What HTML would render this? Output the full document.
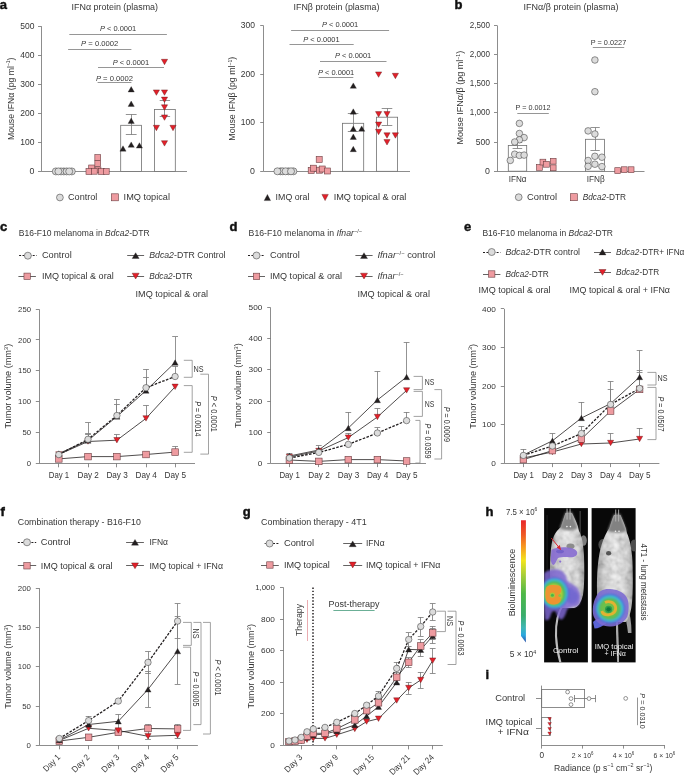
<!DOCTYPE html>
<html><head><meta charset="utf-8"><style>
html,body{margin:0;padding:0;background:#fff;}
svg{display:block;will-change:transform;}
text{font-family:"Liberation Sans",sans-serif;}
</style></head><body>
<svg width="685" height="776" viewBox="0 0 685 776">
<rect width="685" height="776" fill="#fff"/>
<g fill="#363636">
<text x="-0.3" y="9.2" font-size="13" font-weight="bold" fill="#111" stroke="#111" stroke-width="0.45">a</text>
<text x="71.6" y="10" font-size="8.5" textLength="86.4" lengthAdjust="spacingAndGlyphs">IFNα protein (plasma)</text>
<line x1="41.5" y1="26.2" x2="41.5" y2="171.4" stroke="#707070" stroke-width="0.8"/>
<line x1="38" y1="171.5" x2="41.3" y2="171.5" stroke="#707070" stroke-width="0.8"/>
<text x="34.4" y="174" font-size="8.8" text-anchor="end" textLength="4.9" lengthAdjust="spacingAndGlyphs">0</text>
<line x1="38" y1="142.5" x2="41.3" y2="142.5" stroke="#707070" stroke-width="0.8"/>
<text x="34.4" y="144.96" font-size="8.8" text-anchor="end" textLength="14.2" lengthAdjust="spacingAndGlyphs">100</text>
<line x1="38" y1="113.5" x2="41.3" y2="113.5" stroke="#707070" stroke-width="0.8"/>
<text x="34.4" y="115.92" font-size="8.8" text-anchor="end" textLength="14.2" lengthAdjust="spacingAndGlyphs">200</text>
<line x1="38" y1="84.5" x2="41.3" y2="84.5" stroke="#707070" stroke-width="0.8"/>
<text x="34.4" y="86.88" font-size="8.8" text-anchor="end" textLength="14.2" lengthAdjust="spacingAndGlyphs">300</text>
<line x1="38" y1="55.5" x2="41.3" y2="55.5" stroke="#707070" stroke-width="0.8"/>
<text x="34.4" y="57.84" font-size="8.8" text-anchor="end" textLength="14.2" lengthAdjust="spacingAndGlyphs">400</text>
<line x1="38" y1="26.5" x2="41.3" y2="26.5" stroke="#707070" stroke-width="0.8"/>
<text x="34.4" y="28.8" font-size="8.8" text-anchor="end" textLength="14.2" lengthAdjust="spacingAndGlyphs">500</text>
<text transform="translate(13.8,98.8) rotate(-90)" x="0" y="0" font-size="9.8" text-anchor="middle" textLength="82.6" lengthAdjust="spacingAndGlyphs">Mouse IFNα (pg ml<tspan dy="-3.6" font-size="5.6">−1</tspan><tspan dy="3.6">)</tspan></text>
<line x1="41.3" y1="171.5" x2="187" y2="171.5" stroke="#707070" stroke-width="0.8"/>
<line x1="69.3" y1="34.5" x2="166.9" y2="34.5" stroke="#8a8a8a" stroke-width="0.9"/>
<text x="118.1" y="31" font-size="7.5" text-anchor="middle" textLength="36.4" lengthAdjust="spacingAndGlyphs"><tspan font-style="italic">P</tspan> &lt; 0.0001</text>
<line x1="68.1" y1="49.5" x2="131.4" y2="49.5" stroke="#8a8a8a" stroke-width="0.9"/>
<text x="99.7" y="46.4" font-size="7.5" text-anchor="middle" textLength="37.2" lengthAdjust="spacingAndGlyphs"><tspan font-style="italic">P</tspan> = 0.0002</text>
<line x1="98" y1="67.5" x2="164" y2="67.5" stroke="#8a8a8a" stroke-width="0.9"/>
<text x="131" y="64.9" font-size="7.5" text-anchor="middle" textLength="36.4" lengthAdjust="spacingAndGlyphs"><tspan font-style="italic">P</tspan> &lt; 0.0001</text>
<line x1="97.6" y1="82.5" x2="131.4" y2="82.5" stroke="#8a8a8a" stroke-width="0.9"/>
<text x="114.5" y="80.6" font-size="7.5" text-anchor="middle" textLength="37.2" lengthAdjust="spacingAndGlyphs"><tspan font-style="italic">P</tspan> = 0.0002</text>
<rect x="120.7" y="125.3" width="20.9" height="46.1" fill="#fff" stroke="#707070" stroke-width="0.8"/>
<rect x="154.4" y="109.4" width="20.9" height="62" fill="#fff" stroke="#707070" stroke-width="0.8"/>
<line x1="131.5" y1="114.2" x2="131.5" y2="134.9" stroke="#808080" stroke-width="0.85"/>
<line x1="125.8" y1="114.5" x2="136.6" y2="114.5" stroke="#808080" stroke-width="0.85"/>
<line x1="125.8" y1="134.5" x2="136.6" y2="134.5" stroke="#808080" stroke-width="0.85"/>
<line x1="164.5" y1="100.3" x2="164.5" y2="116.5" stroke="#808080" stroke-width="0.85"/>
<line x1="159.7" y1="100.5" x2="170.1" y2="100.5" stroke="#808080" stroke-width="0.85"/>
<line x1="159.7" y1="116.5" x2="170.1" y2="116.5" stroke="#808080" stroke-width="0.85"/>
<circle cx="63.8" cy="171.4" r="3.5" fill="#dcdcdc" stroke="#4a4a4a" stroke-width="0.6"/>
<circle cx="55.8" cy="171.4" r="3.5" fill="#dcdcdc" stroke="#4a4a4a" stroke-width="0.6"/>
<circle cx="61" cy="171.4" r="3.5" fill="#dcdcdc" stroke="#4a4a4a" stroke-width="0.6"/>
<circle cx="58.4" cy="171.4" r="3.5" fill="#dcdcdc" stroke="#4a4a4a" stroke-width="0.6"/>
<circle cx="66.6" cy="171.4" r="3.5" fill="#dcdcdc" stroke="#4a4a4a" stroke-width="0.6"/>
<circle cx="71.8" cy="171.4" r="3.5" fill="#dcdcdc" stroke="#4a4a4a" stroke-width="0.6"/>
<circle cx="69.2" cy="171.4" r="3.5" fill="#dcdcdc" stroke="#4a4a4a" stroke-width="0.6"/>
<rect x="94.85" y="154.6" width="5.8" height="5.8" fill="#ee9ba0" stroke="#6b3d40" stroke-width="0.6"/>
<rect x="94.85" y="160.5" width="5.8" height="5.8" fill="#ee9ba0" stroke="#6b3d40" stroke-width="0.6"/>
<rect x="88.7" y="165" width="5.8" height="5.8" fill="#ee9ba0" stroke="#6b3d40" stroke-width="0.6"/>
<rect x="95.1" y="166.9" width="5.8" height="5.8" fill="#ee9ba0" stroke="#6b3d40" stroke-width="0.6"/>
<rect x="86" y="168.6" width="5.8" height="5.8" fill="#ee9ba0" stroke="#6b3d40" stroke-width="0.6"/>
<rect x="91.4" y="168.4" width="5.8" height="5.8" fill="#ee9ba0" stroke="#6b3d40" stroke-width="0.6"/>
<rect x="98.6" y="168.6" width="5.8" height="5.8" fill="#ee9ba0" stroke="#6b3d40" stroke-width="0.6"/>
<rect x="103.4" y="168.6" width="5.8" height="5.8" fill="#ee9ba0" stroke="#6b3d40" stroke-width="0.6"/>
<polygon points="128.1,92 134.3,92 131.2,86.6" fill="#231f20" stroke="#231f20" stroke-width="0.3"/>
<polygon points="128.1,106.4 134.3,106.4 131.2,101" fill="#231f20" stroke="#231f20" stroke-width="0.3"/>
<polygon points="128.1,123.4 134.3,123.4 131.2,118" fill="#231f20" stroke="#231f20" stroke-width="0.3"/>
<polygon points="119.9,151.2 126.1,151.2 123,145.8" fill="#231f20" stroke="#231f20" stroke-width="0.3"/>
<polygon points="128.1,147.3 134.3,147.3 131.2,141.9" fill="#231f20" stroke="#231f20" stroke-width="0.3"/>
<polygon points="136.3,148.1 142.5,148.1 139.4,142.7" fill="#231f20" stroke="#231f20" stroke-width="0.3"/>
<polygon points="161.4,59.3 167.6,59.3 164.5,64.7" fill="#e3202a" stroke="#5a1515" stroke-width="0.4"/>
<polygon points="153.3,89.9 159.5,89.9 156.4,95.3" fill="#e3202a" stroke="#5a1515" stroke-width="0.4"/>
<polygon points="161.4,89.9 167.6,89.9 164.5,95.3" fill="#e3202a" stroke="#5a1515" stroke-width="0.4"/>
<polygon points="161.4,97.1 167.6,97.1 164.5,102.5" fill="#e3202a" stroke="#5a1515" stroke-width="0.4"/>
<polygon points="161.4,104.8 167.6,104.8 164.5,110.2" fill="#e3202a" stroke="#5a1515" stroke-width="0.4"/>
<polygon points="161.4,114.9 167.6,114.9 164.5,120.3" fill="#e3202a" stroke="#5a1515" stroke-width="0.4"/>
<polygon points="153.3,125.3 159.5,125.3 156.4,130.7" fill="#e3202a" stroke="#5a1515" stroke-width="0.4"/>
<polygon points="169.9,125.3 176.1,125.3 173,130.7" fill="#e3202a" stroke="#5a1515" stroke-width="0.4"/>
<polygon points="161.4,140.7 167.6,140.7 164.5,146.1" fill="#e3202a" stroke="#5a1515" stroke-width="0.4"/>
<circle cx="59.9" cy="197.5" r="3.4" fill="#dcdcdc" stroke="#4a4a4a" stroke-width="0.6"/>
<text x="68" y="200.2" font-size="8.6" textLength="29.4" lengthAdjust="spacingAndGlyphs">Control</text>
<rect x="111.4" y="193.8" width="7" height="7" fill="#ee9ba0" stroke="#6b3d40" stroke-width="0.6"/>
<text x="123.6" y="200.2" font-size="8.6" textLength="46.4" lengthAdjust="spacingAndGlyphs">IMQ topical</text>
<text x="293.6" y="10" font-size="8.5" textLength="85.8" lengthAdjust="spacingAndGlyphs">IFNβ protein (plasma)</text>
<line x1="263.5" y1="25.6" x2="263.5" y2="171.3" stroke="#707070" stroke-width="0.8"/>
<line x1="260.2" y1="171.5" x2="263.5" y2="171.5" stroke="#707070" stroke-width="0.8"/>
<text x="255" y="173.9" font-size="8.8" text-anchor="end" textLength="4.9" lengthAdjust="spacingAndGlyphs">0</text>
<line x1="260.2" y1="122.5" x2="263.5" y2="122.5" stroke="#707070" stroke-width="0.8"/>
<text x="255" y="125.33" font-size="8.8" text-anchor="end" textLength="14.2" lengthAdjust="spacingAndGlyphs">100</text>
<line x1="260.2" y1="74.5" x2="263.5" y2="74.5" stroke="#707070" stroke-width="0.8"/>
<text x="255" y="76.76" font-size="8.8" text-anchor="end" textLength="14.2" lengthAdjust="spacingAndGlyphs">200</text>
<line x1="260.2" y1="25.5" x2="263.5" y2="25.5" stroke="#707070" stroke-width="0.8"/>
<text x="255" y="28.19" font-size="8.8" text-anchor="end" textLength="14.2" lengthAdjust="spacingAndGlyphs">300</text>
<text transform="translate(235.2,98.7) rotate(-90)" x="0" y="0" font-size="9.6" text-anchor="middle" textLength="84" lengthAdjust="spacingAndGlyphs">Mouse IFNβ (pg ml<tspan dy="-3.6" font-size="5.6">−1</tspan><tspan dy="3.6">)</tspan></text>
<line x1="263.5" y1="171.5" x2="410" y2="171.5" stroke="#707070" stroke-width="0.8"/>
<line x1="291.1" y1="30.5" x2="389.1" y2="30.5" stroke="#8a8a8a" stroke-width="0.9"/>
<text x="340.1" y="26.8" font-size="7.5" text-anchor="middle" textLength="36.4" lengthAdjust="spacingAndGlyphs"><tspan font-style="italic">P</tspan> &lt; 0.0001</text>
<line x1="289.5" y1="44.5" x2="353.7" y2="44.5" stroke="#8a8a8a" stroke-width="0.9"/>
<text x="321.5" y="42.1" font-size="7.5" text-anchor="middle" textLength="36.4" lengthAdjust="spacingAndGlyphs"><tspan font-style="italic">P</tspan> &lt; 0.0001</text>
<line x1="320" y1="61.5" x2="386.5" y2="61.5" stroke="#8a8a8a" stroke-width="0.9"/>
<text x="353.1" y="57.7" font-size="7.5" text-anchor="middle" textLength="36.4" lengthAdjust="spacingAndGlyphs"><tspan font-style="italic">P</tspan> &lt; 0.0001</text>
<line x1="318.7" y1="77.5" x2="353.3" y2="77.5" stroke="#8a8a8a" stroke-width="0.9"/>
<text x="336.1" y="75" font-size="7.5" text-anchor="middle" textLength="36.4" lengthAdjust="spacingAndGlyphs"><tspan font-style="italic">P</tspan> &lt; 0.0001</text>
<rect x="342.5" y="123.3" width="21.2" height="48" fill="#fff" stroke="#707070" stroke-width="0.8"/>
<rect x="376.4" y="117.2" width="21.2" height="54.1" fill="#fff" stroke="#707070" stroke-width="0.8"/>
<line x1="353.5" y1="113.4" x2="353.5" y2="131.6" stroke="#808080" stroke-width="0.85"/>
<line x1="347.8" y1="113.5" x2="358.4" y2="113.5" stroke="#808080" stroke-width="0.85"/>
<line x1="347.8" y1="131.5" x2="358.4" y2="131.5" stroke="#808080" stroke-width="0.85"/>
<line x1="387.5" y1="108.3" x2="387.5" y2="125.6" stroke="#808080" stroke-width="0.85"/>
<line x1="381.7" y1="108.5" x2="392.3" y2="108.5" stroke="#808080" stroke-width="0.85"/>
<line x1="381.7" y1="125.5" x2="392.3" y2="125.5" stroke="#808080" stroke-width="0.85"/>
<circle cx="280.5" cy="171.3" r="3.5" fill="#dcdcdc" stroke="#4a4a4a" stroke-width="0.6"/>
<circle cx="282.7" cy="171.3" r="3.5" fill="#dcdcdc" stroke="#4a4a4a" stroke-width="0.6"/>
<circle cx="288.4" cy="171.3" r="3.5" fill="#dcdcdc" stroke="#4a4a4a" stroke-width="0.6"/>
<circle cx="293.4" cy="171.3" r="3.5" fill="#dcdcdc" stroke="#4a4a4a" stroke-width="0.6"/>
<circle cx="277.4" cy="171.3" r="3.5" fill="#dcdcdc" stroke="#4a4a4a" stroke-width="0.6"/>
<circle cx="285.6" cy="171.3" r="3.5" fill="#dcdcdc" stroke="#4a4a4a" stroke-width="0.6"/>
<circle cx="291" cy="171.3" r="3.5" fill="#dcdcdc" stroke="#4a4a4a" stroke-width="0.6"/>
<rect x="316.2" y="156.4" width="6" height="6" fill="#ee9ba0" stroke="#6b3d40" stroke-width="0.6"/>
<rect x="308.2" y="167.4" width="6" height="6" fill="#ee9ba0" stroke="#6b3d40" stroke-width="0.6"/>
<rect x="310.4" y="165.2" width="6" height="6" fill="#ee9ba0" stroke="#6b3d40" stroke-width="0.6"/>
<rect x="316.4" y="167.2" width="6" height="6" fill="#ee9ba0" stroke="#6b3d40" stroke-width="0.6"/>
<rect x="319.2" y="166" width="6" height="6" fill="#ee9ba0" stroke="#6b3d40" stroke-width="0.6"/>
<rect x="324.4" y="168" width="6" height="6" fill="#ee9ba0" stroke="#6b3d40" stroke-width="0.6"/>
<polygon points="350.2,88.3 356.4,88.3 353.3,82.9" fill="#231f20" stroke="#231f20" stroke-width="0.3"/>
<polygon points="350.2,114.2 356.4,114.2 353.3,108.8" fill="#231f20" stroke="#231f20" stroke-width="0.3"/>
<polygon points="350.2,131.3 356.4,131.3 353.3,125.9" fill="#231f20" stroke="#231f20" stroke-width="0.3"/>
<polygon points="358.6,131.3 364.8,131.3 361.7,125.9" fill="#231f20" stroke="#231f20" stroke-width="0.3"/>
<polygon points="350.2,139.4 356.4,139.4 353.3,134" fill="#231f20" stroke="#231f20" stroke-width="0.3"/>
<polygon points="350.2,151.7 356.4,151.7 353.3,146.3" fill="#231f20" stroke="#231f20" stroke-width="0.3"/>
<polygon points="375.5,71.9 381.7,71.9 378.6,77.3" fill="#e3202a" stroke="#5a1515" stroke-width="0.4"/>
<polygon points="392.3,73.3 398.5,73.3 395.4,78.7" fill="#e3202a" stroke="#5a1515" stroke-width="0.4"/>
<polygon points="375.5,111.6 381.7,111.6 378.6,117" fill="#e3202a" stroke="#5a1515" stroke-width="0.4"/>
<polygon points="383.9,111.6 390.1,111.6 387,117" fill="#e3202a" stroke="#5a1515" stroke-width="0.4"/>
<polygon points="375.5,122 381.7,122 378.6,127.4" fill="#e3202a" stroke="#5a1515" stroke-width="0.4"/>
<polygon points="375.5,129.3 381.7,129.3 378.6,134.7" fill="#e3202a" stroke="#5a1515" stroke-width="0.4"/>
<polygon points="383.9,132.8 390.1,132.8 387,138.2" fill="#e3202a" stroke="#5a1515" stroke-width="0.4"/>
<polygon points="392.3,132.8 398.5,132.8 395.4,138.2" fill="#e3202a" stroke="#5a1515" stroke-width="0.4"/>
<polygon points="383.9,139.6 390.1,139.6 387,145" fill="#e3202a" stroke="#5a1515" stroke-width="0.4"/>
<polygon points="264.2,200.6 270.6,200.6 267.4,194.4" fill="#231f20" stroke="#231f20" stroke-width="0.3"/>
<text x="275.6" y="200.2" font-size="8.6" textLength="33.8" lengthAdjust="spacingAndGlyphs">IMQ oral</text>
<polygon points="321.9,194.4 328.3,194.4 325.1,200.6" fill="#e3202a" stroke="#5a1515" stroke-width="0.4"/>
<text x="333.7" y="200.2" font-size="8.6" textLength="72.7" lengthAdjust="spacingAndGlyphs">IMQ topical &amp; oral</text>
<text x="454.6" y="8.8" font-size="13" font-weight="bold" fill="#111" stroke="#111" stroke-width="0.45">b</text>
<text x="523.6" y="10" font-size="8.5" textLength="94.8" lengthAdjust="spacingAndGlyphs">IFNα/β protein (plasma)</text>
<line x1="497.5" y1="25.4" x2="497.5" y2="171.2" stroke="#707070" stroke-width="0.8"/>
<line x1="494" y1="171.5" x2="497" y2="171.5" stroke="#707070" stroke-width="0.8"/>
<text x="489.9" y="173.8" font-size="8.8" text-anchor="end" textLength="4.9" lengthAdjust="spacingAndGlyphs">0</text>
<line x1="494" y1="142.5" x2="497" y2="142.5" stroke="#707070" stroke-width="0.8"/>
<text x="489.9" y="144.64" font-size="8.8" text-anchor="end" textLength="14.2" lengthAdjust="spacingAndGlyphs">500</text>
<line x1="494" y1="112.5" x2="497" y2="112.5" stroke="#707070" stroke-width="0.8"/>
<text x="489.9" y="115.48" font-size="8.8" text-anchor="end" textLength="20.2" lengthAdjust="spacingAndGlyphs">1,000</text>
<line x1="494" y1="83.5" x2="497" y2="83.5" stroke="#707070" stroke-width="0.8"/>
<text x="489.9" y="86.32" font-size="8.8" text-anchor="end" textLength="20.2" lengthAdjust="spacingAndGlyphs">1,500</text>
<line x1="494" y1="54.5" x2="497" y2="54.5" stroke="#707070" stroke-width="0.8"/>
<text x="489.9" y="57.16" font-size="8.8" text-anchor="end" textLength="20.2" lengthAdjust="spacingAndGlyphs">2,000</text>
<line x1="494" y1="25.5" x2="497" y2="25.5" stroke="#707070" stroke-width="0.8"/>
<text x="489.9" y="28" font-size="8.8" text-anchor="end" textLength="20.2" lengthAdjust="spacingAndGlyphs">2,500</text>
<text transform="translate(463.3,97.6) rotate(-90)" x="0" y="0" font-size="9.8" text-anchor="middle" textLength="93.7" lengthAdjust="spacingAndGlyphs">Mouse IFNα/β (pg ml<tspan dy="-3.6" font-size="5.6">−1</tspan><tspan dy="3.6">)</tspan></text>
<line x1="497" y1="171.5" x2="644.5" y2="171.5" stroke="#707070" stroke-width="0.8"/>
<line x1="517.3" y1="113.5" x2="548.8" y2="113.5" stroke="#8a8a8a" stroke-width="0.9"/>
<text x="533.05" y="110.4" font-size="7.5" text-anchor="middle" textLength="35" lengthAdjust="spacingAndGlyphs">P = 0.0012</text>
<line x1="592.8" y1="47.5" x2="624.2" y2="47.5" stroke="#8a8a8a" stroke-width="0.9"/>
<text x="608.5" y="44.9" font-size="7.5" text-anchor="middle" textLength="35.4" lengthAdjust="spacingAndGlyphs">P = 0.0227</text>
<rect x="508.3" y="145.5" width="18.4" height="25.7" fill="#fff" stroke="#707070" stroke-width="0.8"/>
<rect x="585.5" y="139.3" width="19" height="31.9" fill="#fff" stroke="#707070" stroke-width="0.8"/>
<line x1="517.5" y1="142.5" x2="517.5" y2="148.5" stroke="#808080" stroke-width="0.85"/>
<line x1="512.6" y1="142.5" x2="522.2" y2="142.5" stroke="#808080" stroke-width="0.85"/>
<line x1="512.6" y1="148.5" x2="522.2" y2="148.5" stroke="#808080" stroke-width="0.85"/>
<line x1="595.5" y1="127.4" x2="595.5" y2="150.6" stroke="#808080" stroke-width="0.85"/>
<line x1="590.45" y1="127.5" x2="599.75" y2="127.5" stroke="#808080" stroke-width="0.85"/>
<line x1="590.45" y1="150.5" x2="599.75" y2="150.5" stroke="#808080" stroke-width="0.85"/>
<circle cx="519.4" cy="123.4" r="3.3" fill="#dcdcdc" stroke="#4a4a4a" stroke-width="0.6"/>
<circle cx="519.4" cy="133.5" r="3.3" fill="#dcdcdc" stroke="#4a4a4a" stroke-width="0.6"/>
<circle cx="524.1" cy="137.6" r="3.3" fill="#dcdcdc" stroke="#4a4a4a" stroke-width="0.6"/>
<circle cx="519.4" cy="139.8" r="3.3" fill="#dcdcdc" stroke="#4a4a4a" stroke-width="0.6"/>
<circle cx="514.7" cy="142" r="3.3" fill="#dcdcdc" stroke="#4a4a4a" stroke-width="0.6"/>
<circle cx="514.7" cy="154.2" r="3.3" fill="#dcdcdc" stroke="#4a4a4a" stroke-width="0.6"/>
<circle cx="519.4" cy="155.4" r="3.3" fill="#dcdcdc" stroke="#4a4a4a" stroke-width="0.6"/>
<circle cx="524.1" cy="155.1" r="3.3" fill="#dcdcdc" stroke="#4a4a4a" stroke-width="0.6"/>
<circle cx="510.3" cy="160.4" r="3.3" fill="#dcdcdc" stroke="#4a4a4a" stroke-width="0.6"/>
<rect x="536.5" y="164.5" width="5.8" height="5.8" fill="#ee9ba0" stroke="#6b3d40" stroke-width="0.6"/>
<rect x="540" y="159.2" width="5.8" height="5.8" fill="#ee9ba0" stroke="#6b3d40" stroke-width="0.6"/>
<rect x="543.5" y="161.4" width="5.8" height="5.8" fill="#ee9ba0" stroke="#6b3d40" stroke-width="0.6"/>
<rect x="550.3" y="158.3" width="5.8" height="5.8" fill="#ee9ba0" stroke="#6b3d40" stroke-width="0.6"/>
<rect x="550.3" y="164.9" width="5.8" height="5.8" fill="#ee9ba0" stroke="#6b3d40" stroke-width="0.6"/>
<circle cx="594.9" cy="60" r="3.3" fill="#dcdcdc" stroke="#4a4a4a" stroke-width="0.6"/>
<circle cx="594.9" cy="91.7" r="3.3" fill="#dcdcdc" stroke="#4a4a4a" stroke-width="0.6"/>
<circle cx="588.1" cy="130.9" r="3.3" fill="#dcdcdc" stroke="#4a4a4a" stroke-width="0.6"/>
<circle cx="594.9" cy="134" r="3.3" fill="#dcdcdc" stroke="#4a4a4a" stroke-width="0.6"/>
<circle cx="594.9" cy="156.3" r="3.3" fill="#dcdcdc" stroke="#4a4a4a" stroke-width="0.6"/>
<circle cx="601.9" cy="157.2" r="3.3" fill="#dcdcdc" stroke="#4a4a4a" stroke-width="0.6"/>
<circle cx="588.1" cy="160.5" r="3.3" fill="#dcdcdc" stroke="#4a4a4a" stroke-width="0.6"/>
<circle cx="588.1" cy="166.3" r="3.3" fill="#dcdcdc" stroke="#4a4a4a" stroke-width="0.6"/>
<circle cx="594.9" cy="164.2" r="3.3" fill="#dcdcdc" stroke="#4a4a4a" stroke-width="0.6"/>
<circle cx="601.9" cy="166.6" r="3.3" fill="#dcdcdc" stroke="#4a4a4a" stroke-width="0.6"/>
<rect x="614.8" y="167.7" width="5.8" height="5.8" fill="#ee9ba0" stroke="#6b3d40" stroke-width="0.6"/>
<rect x="621.3" y="166.8" width="5.8" height="5.8" fill="#ee9ba0" stroke="#6b3d40" stroke-width="0.6"/>
<rect x="628.2" y="166.8" width="5.8" height="5.8" fill="#ee9ba0" stroke="#6b3d40" stroke-width="0.6"/>
<text x="508.7" y="181.6" font-size="8.5" textLength="17.8" lengthAdjust="spacingAndGlyphs">IFNα</text>
<text x="586.7" y="181.6" font-size="8.5" textLength="18" lengthAdjust="spacingAndGlyphs">IFNβ</text>
<circle cx="518.7" cy="197.2" r="3.4" fill="#dcdcdc" stroke="#4a4a4a" stroke-width="0.6"/>
<text x="527" y="200.2" font-size="8.6" textLength="30.1" lengthAdjust="spacingAndGlyphs">Control</text>
<rect x="570.4" y="193.7" width="7" height="7" fill="#ee9ba0" stroke="#6b3d40" stroke-width="0.6"/>
<text x="582.7" y="200.2" font-size="8.6" textLength="43.3" lengthAdjust="spacingAndGlyphs"><tspan font-style="italic">Bdca2</tspan>-DTR</text>
<text x="0" y="231.2" font-size="13" font-weight="bold" fill="#111" stroke="#111" stroke-width="0.45">c</text>
<text x="18.8" y="236" font-size="8.4" textLength="130.8" lengthAdjust="spacingAndGlyphs">B16-F10 melanoma in <tspan font-style="italic">Bdca2</tspan>-DTR</text>
<line x1="19.1" y1="255.5" x2="36.6" y2="255.5" stroke="#231f20" stroke-width="1" stroke-dasharray="2,1.4"/>
<circle cx="27.85" cy="255.7" r="3.5" fill="#dcdcdc" stroke="#4a4a4a" stroke-width="0.6"/>
<text x="41.9" y="258" font-size="8.8" textLength="29.8" lengthAdjust="spacingAndGlyphs">Control</text>
<line x1="127.2" y1="255.5" x2="144.1" y2="255.5" stroke="#231f20" stroke-width="0.7"/>
<polygon points="132.15,258.5 139.15,258.5 135.65,252.7" fill="#231f20" stroke="#231f20" stroke-width="0.3"/>
<text x="149.2" y="258" font-size="8.8" textLength="76.3" lengthAdjust="spacingAndGlyphs"><tspan font-style="italic">Bdca2</tspan>-DTR Control</text>
<line x1="18.4" y1="276.5" x2="35.9" y2="276.5" stroke="#231f20" stroke-width="0.7"/>
<rect x="23.95" y="273.1" width="6.4" height="6.4" fill="#ee9ba0" stroke="#6b3d40" stroke-width="0.6"/>
<text x="41.9" y="278.6" font-size="8.8" textLength="71.8" lengthAdjust="spacingAndGlyphs">IMQ topical &amp; oral</text>
<line x1="127.2" y1="276.5" x2="144.1" y2="276.5" stroke="#231f20" stroke-width="0.7"/>
<polygon points="132.15,273.2 139.15,273.2 135.65,279" fill="#e3202a" stroke="#5a1515" stroke-width="0.4"/>
<text x="149.2" y="278.8" font-size="8.8" textLength="43.4" lengthAdjust="spacingAndGlyphs"><tspan font-style="italic">Bdca2</tspan>-DTR</text>
<text x="135.6" y="297" font-size="8.8" textLength="72.4" lengthAdjust="spacingAndGlyphs">IMQ topical &amp; oral</text>
<line x1="39.5" y1="309.3" x2="39.5" y2="463.5" stroke="#707070" stroke-width="0.8"/>
<line x1="35.8" y1="463.5" x2="39.2" y2="463.5" stroke="#707070" stroke-width="0.8"/>
<text x="31" y="466.05" font-size="7.5" text-anchor="end" textLength="4.3" lengthAdjust="spacingAndGlyphs">0</text>
<line x1="35.8" y1="432.5" x2="39.2" y2="432.5" stroke="#707070" stroke-width="0.8"/>
<text x="31" y="435.17" font-size="7.5" text-anchor="end" textLength="8.6" lengthAdjust="spacingAndGlyphs">50</text>
<line x1="35.8" y1="401.5" x2="39.2" y2="401.5" stroke="#707070" stroke-width="0.8"/>
<text x="31" y="404.29" font-size="7.5" text-anchor="end" textLength="12.9" lengthAdjust="spacingAndGlyphs">100</text>
<line x1="35.8" y1="370.5" x2="39.2" y2="370.5" stroke="#707070" stroke-width="0.8"/>
<text x="31" y="373.41" font-size="7.5" text-anchor="end" textLength="12.9" lengthAdjust="spacingAndGlyphs">150</text>
<line x1="35.8" y1="339.5" x2="39.2" y2="339.5" stroke="#707070" stroke-width="0.8"/>
<text x="31" y="342.53" font-size="7.5" text-anchor="end" textLength="12.9" lengthAdjust="spacingAndGlyphs">200</text>
<line x1="35.8" y1="309.5" x2="39.2" y2="309.5" stroke="#707070" stroke-width="0.8"/>
<text x="31" y="311.65" font-size="7.5" text-anchor="end" textLength="12.9" lengthAdjust="spacingAndGlyphs">250</text>
<text transform="translate(11.2,386.2) rotate(-90)" x="0" y="0" font-size="8.8" text-anchor="middle" textLength="84.8" lengthAdjust="spacingAndGlyphs">Tumor volume (mm<tspan dy="-3.6" font-size="5.8">3</tspan><tspan dy="3.6">)</tspan></text>
<line x1="39.2" y1="463.5" x2="195" y2="463.5" stroke="#707070" stroke-width="0.8"/>
<line x1="58.5" y1="463.5" x2="58.5" y2="467.3" stroke="#707070" stroke-width="0.8"/>
<text x="59" y="477.6" font-size="8.6" text-anchor="middle" textLength="20.4" lengthAdjust="spacingAndGlyphs">Day 1</text>
<line x1="88.5" y1="463.5" x2="88.5" y2="467.3" stroke="#707070" stroke-width="0.8"/>
<text x="88.2" y="477.6" font-size="8.6" text-anchor="middle" textLength="21.4" lengthAdjust="spacingAndGlyphs">Day 2</text>
<line x1="116.5" y1="463.5" x2="116.5" y2="467.3" stroke="#707070" stroke-width="0.8"/>
<text x="117.1" y="477.6" font-size="8.6" text-anchor="middle" textLength="21.4" lengthAdjust="spacingAndGlyphs">Day 3</text>
<line x1="146.5" y1="463.5" x2="146.5" y2="467.3" stroke="#707070" stroke-width="0.8"/>
<text x="146.2" y="477.6" font-size="8.6" text-anchor="middle" textLength="21.4" lengthAdjust="spacingAndGlyphs">Day 4</text>
<line x1="175.5" y1="463.5" x2="175.5" y2="467.3" stroke="#707070" stroke-width="0.8"/>
<text x="175.3" y="477.6" font-size="8.6" text-anchor="middle" textLength="21.4" lengthAdjust="spacingAndGlyphs">Day 5</text>
<line x1="88.5" y1="422.5" x2="88.5" y2="440.5" stroke="#808080" stroke-width="0.85"/>
<line x1="85.1" y1="422.5" x2="90.9" y2="422.5" stroke="#808080" stroke-width="0.85"/>
<line x1="88.5" y1="433.8" x2="88.5" y2="439.3" stroke="#808080" stroke-width="0.85"/>
<line x1="85.1" y1="433.5" x2="90.9" y2="433.5" stroke="#808080" stroke-width="0.85"/>
<line x1="88.5" y1="434.7" x2="88.5" y2="441.5" stroke="#808080" stroke-width="0.85"/>
<line x1="85.1" y1="434.5" x2="90.9" y2="434.5" stroke="#808080" stroke-width="0.85"/>
<line x1="116.5" y1="399.3" x2="116.5" y2="416.5" stroke="#808080" stroke-width="0.85"/>
<line x1="114" y1="399.5" x2="119.8" y2="399.5" stroke="#808080" stroke-width="0.85"/>
<line x1="116.5" y1="404.6" x2="116.5" y2="415.5" stroke="#808080" stroke-width="0.85"/>
<line x1="114" y1="404.5" x2="119.8" y2="404.5" stroke="#808080" stroke-width="0.85"/>
<line x1="116.5" y1="434.4" x2="116.5" y2="440.2" stroke="#808080" stroke-width="0.85"/>
<line x1="114" y1="434.5" x2="119.8" y2="434.5" stroke="#808080" stroke-width="0.85"/>
<line x1="146.5" y1="369.3" x2="146.5" y2="390.6" stroke="#808080" stroke-width="0.85"/>
<line x1="143.1" y1="369.5" x2="148.9" y2="369.5" stroke="#808080" stroke-width="0.85"/>
<line x1="146.5" y1="377.3" x2="146.5" y2="387.7" stroke="#808080" stroke-width="0.85"/>
<line x1="143.1" y1="377.5" x2="148.9" y2="377.5" stroke="#808080" stroke-width="0.85"/>
<line x1="146.5" y1="405.4" x2="146.5" y2="418.4" stroke="#808080" stroke-width="0.85"/>
<line x1="143.1" y1="405.5" x2="148.9" y2="405.5" stroke="#808080" stroke-width="0.85"/>
<line x1="175.5" y1="336.9" x2="175.5" y2="362.5" stroke="#808080" stroke-width="0.85"/>
<line x1="172.2" y1="336.5" x2="178" y2="336.5" stroke="#808080" stroke-width="0.85"/>
<line x1="175.5" y1="366" x2="175.5" y2="376.5" stroke="#808080" stroke-width="0.85"/>
<line x1="172.2" y1="366.5" x2="178" y2="366.5" stroke="#808080" stroke-width="0.85"/>
<line x1="175.5" y1="446.3" x2="175.5" y2="452.1" stroke="#808080" stroke-width="0.85"/>
<line x1="172.2" y1="446.5" x2="178" y2="446.5" stroke="#808080" stroke-width="0.85"/>
<polyline points="58.8,458.9 88,456.6 116.9,456.6 146,454.5 175.1,452.1" fill="none" stroke="#231f20" stroke-width="0.8"/>
<polyline points="58.8,454.5 88,441.5 116.9,440.2 146,418.4 175.1,386.8" fill="none" stroke="#231f20" stroke-width="0.8"/>
<polyline points="58.8,453.5 88,440.5 116.9,416.5 146,390.6 175.1,362.5" fill="none" stroke="#231f20" stroke-width="0.8"/>
<polyline points="58.8,454.6 88,439.3 116.9,415.5 146,387.7 175.1,376.5" fill="none" stroke="#231f20" stroke-width="1.3" stroke-dasharray="2.6,1.4"/>
<rect x="55.5" y="455.6" width="6.6" height="6.6" fill="#ee9ba0" stroke="#6b3d40" stroke-width="0.6"/>
<rect x="84.7" y="453.3" width="6.6" height="6.6" fill="#ee9ba0" stroke="#6b3d40" stroke-width="0.6"/>
<rect x="113.6" y="453.3" width="6.6" height="6.6" fill="#ee9ba0" stroke="#6b3d40" stroke-width="0.6"/>
<rect x="142.7" y="451.2" width="6.6" height="6.6" fill="#ee9ba0" stroke="#6b3d40" stroke-width="0.6"/>
<rect x="171.8" y="448.8" width="6.6" height="6.6" fill="#ee9ba0" stroke="#6b3d40" stroke-width="0.6"/>
<polygon points="55.7,451.8 61.9,451.8 58.8,457.2" fill="#e3202a" stroke="#5a1515" stroke-width="0.4"/>
<polygon points="84.9,438.8 91.1,438.8 88,444.2" fill="#e3202a" stroke="#5a1515" stroke-width="0.4"/>
<polygon points="113.8,437.5 120,437.5 116.9,442.9" fill="#e3202a" stroke="#5a1515" stroke-width="0.4"/>
<polygon points="142.9,415.7 149.1,415.7 146,421.1" fill="#e3202a" stroke="#5a1515" stroke-width="0.4"/>
<polygon points="172,384.1 178.2,384.1 175.1,389.5" fill="#e3202a" stroke="#5a1515" stroke-width="0.4"/>
<polygon points="55.7,456.2 61.9,456.2 58.8,450.8" fill="#231f20" stroke="#231f20" stroke-width="0.3"/>
<polygon points="84.9,443.2 91.1,443.2 88,437.8" fill="#231f20" stroke="#231f20" stroke-width="0.3"/>
<polygon points="113.8,419.2 120,419.2 116.9,413.8" fill="#231f20" stroke="#231f20" stroke-width="0.3"/>
<polygon points="142.9,393.3 149.1,393.3 146,387.9" fill="#231f20" stroke="#231f20" stroke-width="0.3"/>
<polygon points="172,365.2 178.2,365.2 175.1,359.8" fill="#231f20" stroke="#231f20" stroke-width="0.3"/>
<circle cx="58.8" cy="454.6" r="3.2" fill="#dcdcdc" stroke="#4a4a4a" stroke-width="0.6"/>
<circle cx="88" cy="439.3" r="3.2" fill="#dcdcdc" stroke="#4a4a4a" stroke-width="0.6"/>
<circle cx="116.9" cy="415.5" r="3.2" fill="#dcdcdc" stroke="#4a4a4a" stroke-width="0.6"/>
<circle cx="146" cy="387.7" r="3.2" fill="#dcdcdc" stroke="#4a4a4a" stroke-width="0.6"/>
<circle cx="175.1" cy="376.5" r="3.2" fill="#dcdcdc" stroke="#4a4a4a" stroke-width="0.6"/>
<polyline points="183.8,360.3 192.2,360.3 192.2,377.3 183.8,377.3" fill="none" stroke="#8a8a8a" stroke-width="0.8"/>
<text x="193.5" y="371.6" font-size="8.4" textLength="10.1" lengthAdjust="spacingAndGlyphs">NS</text>
<polyline points="183.8,385.6 192.2,385.6 192.2,452.3 183.8,452.3" fill="none" stroke="#8a8a8a" stroke-width="0.8"/>
<text transform="translate(195.2,418.8) rotate(90)" x="0" y="0" font-size="8.2" text-anchor="middle" textLength="35.2" lengthAdjust="spacingAndGlyphs"><tspan font-style="italic">P</tspan> = 0.0014</text>
<polyline points="200.3,374.2 208.5,374.2 208.5,454.1 200.3,454.1" fill="none" stroke="#8a8a8a" stroke-width="0.8"/>
<text transform="translate(211.4,413.9) rotate(90)" x="0" y="0" font-size="8.2" text-anchor="middle" textLength="36.1" lengthAdjust="spacingAndGlyphs"><tspan font-style="italic">P</tspan> &lt; 0.0001</text>
<text x="229.6" y="230.6" font-size="13" font-weight="bold" fill="#111" stroke="#111" stroke-width="0.45">d</text>
<text x="248.6" y="236" font-size="8.4" textLength="113.4" lengthAdjust="spacingAndGlyphs">B16-F10 melanoma in <tspan font-style="italic">Ifnar</tspan><tspan dy="-2.6" font-size="5.4">−/−</tspan><tspan dy="2.6"></tspan></text>
<line x1="248" y1="255.5" x2="265" y2="255.5" stroke="#231f20" stroke-width="1" stroke-dasharray="2,1.4"/>
<circle cx="256.5" cy="255.5" r="3.5" fill="#dcdcdc" stroke="#4a4a4a" stroke-width="0.6"/>
<text x="270" y="258" font-size="8.8" textLength="29.8" lengthAdjust="spacingAndGlyphs">Control</text>
<line x1="355.4" y1="255.5" x2="372.6" y2="255.5" stroke="#231f20" stroke-width="0.7"/>
<polygon points="360.5,258.5 367.5,258.5 364,252.7" fill="#231f20" stroke="#231f20" stroke-width="0.3"/>
<text x="377.4" y="258" font-size="8.8" textLength="58" lengthAdjust="spacingAndGlyphs"><tspan font-style="italic">Ifnar</tspan><tspan dy="-2.6" font-size="5.4">−/−</tspan><tspan dy="2.6"> control</tspan></text>
<line x1="248" y1="276.5" x2="265" y2="276.5" stroke="#231f20" stroke-width="0.7"/>
<rect x="253.3" y="273.2" width="6.4" height="6.4" fill="#ee9ba0" stroke="#6b3d40" stroke-width="0.6"/>
<text x="270" y="278.8" font-size="8.8" textLength="72" lengthAdjust="spacingAndGlyphs">IMQ topical &amp; oral</text>
<line x1="355.4" y1="276.5" x2="372.6" y2="276.5" stroke="#231f20" stroke-width="0.7"/>
<polygon points="360.5,273.2 367.5,273.2 364,279" fill="#e3202a" stroke="#5a1515" stroke-width="0.4"/>
<text x="377.4" y="278.8" font-size="8.8" textLength="26" lengthAdjust="spacingAndGlyphs"><tspan font-style="italic">Ifnar</tspan><tspan dy="-2.6" font-size="5.4">−/−</tspan><tspan dy="2.6"></tspan></text>
<text x="357.4" y="297" font-size="8.8" textLength="72.6" lengthAdjust="spacingAndGlyphs">IMQ topical &amp; oral</text>
<line x1="270.5" y1="307.6" x2="270.5" y2="463.3" stroke="#707070" stroke-width="0.8"/>
<line x1="267.2" y1="463.5" x2="270.6" y2="463.5" stroke="#707070" stroke-width="0.8"/>
<text x="262.4" y="465.85" font-size="7.5" text-anchor="end" textLength="4.6" lengthAdjust="spacingAndGlyphs">0</text>
<line x1="267.2" y1="432.5" x2="270.6" y2="432.5" stroke="#707070" stroke-width="0.8"/>
<text x="262.4" y="434.71" font-size="7.5" text-anchor="end" textLength="13.8" lengthAdjust="spacingAndGlyphs">100</text>
<line x1="267.2" y1="401.5" x2="270.6" y2="401.5" stroke="#707070" stroke-width="0.8"/>
<text x="262.4" y="403.57" font-size="7.5" text-anchor="end" textLength="13.8" lengthAdjust="spacingAndGlyphs">200</text>
<line x1="267.2" y1="369.5" x2="270.6" y2="369.5" stroke="#707070" stroke-width="0.8"/>
<text x="262.4" y="372.43" font-size="7.5" text-anchor="end" textLength="13.8" lengthAdjust="spacingAndGlyphs">300</text>
<line x1="267.2" y1="338.5" x2="270.6" y2="338.5" stroke="#707070" stroke-width="0.8"/>
<text x="262.4" y="341.29" font-size="7.5" text-anchor="end" textLength="13.8" lengthAdjust="spacingAndGlyphs">400</text>
<line x1="267.2" y1="307.5" x2="270.6" y2="307.5" stroke="#707070" stroke-width="0.8"/>
<text x="262.4" y="310.15" font-size="7.5" text-anchor="end" textLength="13.8" lengthAdjust="spacingAndGlyphs">500</text>
<text transform="translate(241.3,385.7) rotate(-90)" x="0" y="0" font-size="8.8" text-anchor="middle" textLength="84.8" lengthAdjust="spacingAndGlyphs">Tumor volume (mm<tspan dy="-3.6" font-size="5.8">3</tspan><tspan dy="3.6">)</tspan></text>
<line x1="270.6" y1="463.5" x2="426" y2="463.5" stroke="#707070" stroke-width="0.8"/>
<line x1="289.5" y1="463.3" x2="289.5" y2="467.1" stroke="#707070" stroke-width="0.8"/>
<text x="289.6" y="477.6" font-size="8.6" text-anchor="middle" textLength="20.4" lengthAdjust="spacingAndGlyphs">Day 1</text>
<line x1="318.5" y1="463.3" x2="318.5" y2="467.1" stroke="#707070" stroke-width="0.8"/>
<text x="319" y="477.6" font-size="8.6" text-anchor="middle" textLength="21.4" lengthAdjust="spacingAndGlyphs">Day 2</text>
<line x1="348.5" y1="463.3" x2="348.5" y2="467.1" stroke="#707070" stroke-width="0.8"/>
<text x="348.5" y="477.6" font-size="8.6" text-anchor="middle" textLength="21.4" lengthAdjust="spacingAndGlyphs">Day 3</text>
<line x1="377.5" y1="463.3" x2="377.5" y2="467.1" stroke="#707070" stroke-width="0.8"/>
<text x="377.6" y="477.6" font-size="8.6" text-anchor="middle" textLength="21.4" lengthAdjust="spacingAndGlyphs">Day 4</text>
<line x1="406.5" y1="463.3" x2="406.5" y2="467.1" stroke="#707070" stroke-width="0.8"/>
<text x="406.8" y="477.6" font-size="8.6" text-anchor="middle" textLength="21.4" lengthAdjust="spacingAndGlyphs">Day 5</text>
<line x1="289.5" y1="453" x2="289.5" y2="456" stroke="#808080" stroke-width="0.85"/>
<line x1="286.5" y1="453.5" x2="292.3" y2="453.5" stroke="#808080" stroke-width="0.85"/>
<line x1="318.5" y1="445.4" x2="318.5" y2="450" stroke="#808080" stroke-width="0.85"/>
<line x1="315.9" y1="445.5" x2="321.7" y2="445.5" stroke="#808080" stroke-width="0.85"/>
<line x1="348.5" y1="412" x2="348.5" y2="428" stroke="#808080" stroke-width="0.85"/>
<line x1="345.4" y1="412.5" x2="351.2" y2="412.5" stroke="#808080" stroke-width="0.85"/>
<line x1="348.5" y1="433" x2="348.5" y2="437.6" stroke="#808080" stroke-width="0.85"/>
<line x1="345.4" y1="433.5" x2="351.2" y2="433.5" stroke="#808080" stroke-width="0.85"/>
<line x1="377.5" y1="371.4" x2="377.5" y2="400" stroke="#808080" stroke-width="0.85"/>
<line x1="374.5" y1="371.5" x2="380.3" y2="371.5" stroke="#808080" stroke-width="0.85"/>
<line x1="377.5" y1="408.4" x2="377.5" y2="417" stroke="#808080" stroke-width="0.85"/>
<line x1="374.5" y1="408.5" x2="380.3" y2="408.5" stroke="#808080" stroke-width="0.85"/>
<line x1="377.5" y1="427.4" x2="377.5" y2="433" stroke="#808080" stroke-width="0.85"/>
<line x1="374.5" y1="427.5" x2="380.3" y2="427.5" stroke="#808080" stroke-width="0.85"/>
<line x1="406.5" y1="342.4" x2="406.5" y2="377" stroke="#808080" stroke-width="0.85"/>
<line x1="403.7" y1="342.5" x2="409.5" y2="342.5" stroke="#808080" stroke-width="0.85"/>
<line x1="406.5" y1="412" x2="406.5" y2="420.6" stroke="#808080" stroke-width="0.85"/>
<line x1="403.7" y1="412.5" x2="409.5" y2="412.5" stroke="#808080" stroke-width="0.85"/>
<polyline points="289.4,460 318.8,461.4 348.3,459.6 377.4,459.6 406.6,461" fill="none" stroke="#231f20" stroke-width="0.8"/>
<polyline points="289.4,457 318.8,451 348.3,437.6 377.4,417 406.6,390.4" fill="none" stroke="#231f20" stroke-width="0.8"/>
<polyline points="289.4,456 318.8,450 348.3,428 377.4,400 406.6,377" fill="none" stroke="#231f20" stroke-width="0.8"/>
<polyline points="289.4,458 318.8,452.4 348.3,444.4 377.4,433 406.6,420.6" fill="none" stroke="#231f20" stroke-width="1.3" stroke-dasharray="2.6,1.4"/>
<rect x="286.1" y="456.7" width="6.6" height="6.6" fill="#ee9ba0" stroke="#6b3d40" stroke-width="0.6"/>
<rect x="315.5" y="458.1" width="6.6" height="6.6" fill="#ee9ba0" stroke="#6b3d40" stroke-width="0.6"/>
<rect x="345" y="456.3" width="6.6" height="6.6" fill="#ee9ba0" stroke="#6b3d40" stroke-width="0.6"/>
<rect x="374.1" y="456.3" width="6.6" height="6.6" fill="#ee9ba0" stroke="#6b3d40" stroke-width="0.6"/>
<rect x="403.3" y="457.7" width="6.6" height="6.6" fill="#ee9ba0" stroke="#6b3d40" stroke-width="0.6"/>
<polygon points="286.3,454.3 292.5,454.3 289.4,459.7" fill="#e3202a" stroke="#5a1515" stroke-width="0.4"/>
<polygon points="315.7,448.3 321.9,448.3 318.8,453.7" fill="#e3202a" stroke="#5a1515" stroke-width="0.4"/>
<polygon points="345.2,434.9 351.4,434.9 348.3,440.3" fill="#e3202a" stroke="#5a1515" stroke-width="0.4"/>
<polygon points="374.3,414.3 380.5,414.3 377.4,419.7" fill="#e3202a" stroke="#5a1515" stroke-width="0.4"/>
<polygon points="403.5,387.7 409.7,387.7 406.6,393.1" fill="#e3202a" stroke="#5a1515" stroke-width="0.4"/>
<polygon points="286.3,458.7 292.5,458.7 289.4,453.3" fill="#231f20" stroke="#231f20" stroke-width="0.3"/>
<polygon points="315.7,452.7 321.9,452.7 318.8,447.3" fill="#231f20" stroke="#231f20" stroke-width="0.3"/>
<polygon points="345.2,430.7 351.4,430.7 348.3,425.3" fill="#231f20" stroke="#231f20" stroke-width="0.3"/>
<polygon points="374.3,402.7 380.5,402.7 377.4,397.3" fill="#231f20" stroke="#231f20" stroke-width="0.3"/>
<polygon points="403.5,379.7 409.7,379.7 406.6,374.3" fill="#231f20" stroke="#231f20" stroke-width="0.3"/>
<circle cx="289.4" cy="458" r="3.2" fill="#dcdcdc" stroke="#4a4a4a" stroke-width="0.6"/>
<circle cx="318.8" cy="452.4" r="3.2" fill="#dcdcdc" stroke="#4a4a4a" stroke-width="0.6"/>
<circle cx="348.3" cy="444.4" r="3.2" fill="#dcdcdc" stroke="#4a4a4a" stroke-width="0.6"/>
<circle cx="377.4" cy="433" r="3.2" fill="#dcdcdc" stroke="#4a4a4a" stroke-width="0.6"/>
<circle cx="406.6" cy="420.6" r="3.2" fill="#dcdcdc" stroke="#4a4a4a" stroke-width="0.6"/>
<polyline points="413.6,376.4 422.4,376.4 422.4,389.6 413.6,389.6" fill="none" stroke="#8a8a8a" stroke-width="0.8"/>
<text x="424.8" y="385.4" font-size="8.4" textLength="9.6" lengthAdjust="spacingAndGlyphs">NS</text>
<polyline points="413.6,391.4 422.4,391.4 422.4,416.4 413.6,416.4" fill="none" stroke="#8a8a8a" stroke-width="0.8"/>
<text x="424.8" y="406.8" font-size="8.4" textLength="9.6" lengthAdjust="spacingAndGlyphs">NS</text>
<polyline points="415.4,420.4 420,420.4 420,463 415.4,463" fill="none" stroke="#8a8a8a" stroke-width="0.8"/>
<text transform="translate(425,441) rotate(90)" x="0" y="0" font-size="8.2" text-anchor="middle" textLength="35.2" lengthAdjust="spacingAndGlyphs"><tspan font-style="italic">P</tspan> = 0.0359</text>
<polyline points="434.4,389.6 441.6,389.6 441.6,459 434.4,459" fill="none" stroke="#8a8a8a" stroke-width="0.8"/>
<text transform="translate(443.6,424.3) rotate(90)" x="0" y="0" font-size="8.2" text-anchor="middle" textLength="35.2" lengthAdjust="spacingAndGlyphs"><tspan font-style="italic">P</tspan> = 0.0009</text>
<text x="464" y="231" font-size="13" font-weight="bold" fill="#111" stroke="#111" stroke-width="0.45">e</text>
<text x="482.4" y="236" font-size="8.4" textLength="130.6" lengthAdjust="spacingAndGlyphs">B16-F10 melanoma in <tspan font-style="italic">Bdca2</tspan>-DTR</text>
<line x1="483" y1="252.5" x2="500.4" y2="252.5" stroke="#231f20" stroke-width="1" stroke-dasharray="2,1.4"/>
<circle cx="491.7" cy="252" r="3.5" fill="#dcdcdc" stroke="#4a4a4a" stroke-width="0.6"/>
<text x="505.4" y="254.6" font-size="8.8" textLength="74.6" lengthAdjust="spacingAndGlyphs"><tspan font-style="italic">Bdca2</tspan>-DTR control</text>
<line x1="594" y1="252.5" x2="611" y2="252.5" stroke="#231f20" stroke-width="0.7"/>
<polygon points="599,254.9 606,254.9 602.5,249.1" fill="#231f20" stroke="#231f20" stroke-width="0.3"/>
<text x="616" y="254.6" font-size="8.8" textLength="68.4" lengthAdjust="spacingAndGlyphs"><tspan font-style="italic">Bdca2</tspan>-DTR+ IFNα</text>
<line x1="483" y1="274.5" x2="500.4" y2="274.5" stroke="#231f20" stroke-width="0.7"/>
<rect x="488.5" y="270.8" width="6.4" height="6.4" fill="#ee9ba0" stroke="#6b3d40" stroke-width="0.6"/>
<text x="505.4" y="276.6" font-size="8.8" textLength="43.4" lengthAdjust="spacingAndGlyphs"><tspan font-style="italic">Bdca2</tspan>-DTR</text>
<line x1="594" y1="272.5" x2="611" y2="272.5" stroke="#231f20" stroke-width="0.7"/>
<polygon points="599,269.5 606,269.5 602.5,275.3" fill="#e3202a" stroke="#5a1515" stroke-width="0.4"/>
<text x="616" y="275" font-size="8.8" textLength="43.2" lengthAdjust="spacingAndGlyphs"><tspan font-style="italic">Bdca2</tspan>-DTR</text>
<text x="478.6" y="293.4" font-size="8.8" textLength="72" lengthAdjust="spacingAndGlyphs">IMQ topical &amp; oral</text>
<text x="569.6" y="293.4" font-size="8.8" textLength="100.4" lengthAdjust="spacingAndGlyphs">IMQ topical &amp; oral + IFNα</text>
<line x1="504.5" y1="309" x2="504.5" y2="463.3" stroke="#707070" stroke-width="0.8"/>
<line x1="500.8" y1="463.5" x2="504.2" y2="463.5" stroke="#707070" stroke-width="0.8"/>
<text x="495.9" y="465.85" font-size="7.5" text-anchor="end" textLength="4.6" lengthAdjust="spacingAndGlyphs">0</text>
<line x1="500.8" y1="424.5" x2="504.2" y2="424.5" stroke="#707070" stroke-width="0.8"/>
<text x="495.9" y="427.27" font-size="7.5" text-anchor="end" textLength="13.8" lengthAdjust="spacingAndGlyphs">100</text>
<line x1="500.8" y1="386.5" x2="504.2" y2="386.5" stroke="#707070" stroke-width="0.8"/>
<text x="495.9" y="388.69" font-size="7.5" text-anchor="end" textLength="13.8" lengthAdjust="spacingAndGlyphs">200</text>
<line x1="500.8" y1="347.5" x2="504.2" y2="347.5" stroke="#707070" stroke-width="0.8"/>
<text x="495.9" y="350.11" font-size="7.5" text-anchor="end" textLength="13.8" lengthAdjust="spacingAndGlyphs">300</text>
<line x1="500.8" y1="308.5" x2="504.2" y2="308.5" stroke="#707070" stroke-width="0.8"/>
<text x="495.9" y="311.53" font-size="7.5" text-anchor="end" textLength="13.8" lengthAdjust="spacingAndGlyphs">400</text>
<text transform="translate(475.7,386.3) rotate(-90)" x="0" y="0" font-size="8.8" text-anchor="middle" textLength="84.8" lengthAdjust="spacingAndGlyphs">Tumor volume (mm<tspan dy="-3.6" font-size="5.8">3</tspan><tspan dy="3.6">)</tspan></text>
<line x1="504.2" y1="463.5" x2="659.4" y2="463.5" stroke="#707070" stroke-width="0.8"/>
<line x1="523.5" y1="463.3" x2="523.5" y2="467.1" stroke="#707070" stroke-width="0.8"/>
<text x="523.6" y="477.6" font-size="8.6" text-anchor="middle" textLength="20.4" lengthAdjust="spacingAndGlyphs">Day 1</text>
<line x1="552.5" y1="463.3" x2="552.5" y2="467.1" stroke="#707070" stroke-width="0.8"/>
<text x="552.6" y="477.6" font-size="8.6" text-anchor="middle" textLength="21.4" lengthAdjust="spacingAndGlyphs">Day 2</text>
<line x1="581.5" y1="463.3" x2="581.5" y2="467.1" stroke="#707070" stroke-width="0.8"/>
<text x="581.6" y="477.6" font-size="8.6" text-anchor="middle" textLength="21.4" lengthAdjust="spacingAndGlyphs">Day 3</text>
<line x1="610.5" y1="463.3" x2="610.5" y2="467.1" stroke="#707070" stroke-width="0.8"/>
<text x="610.8" y="477.6" font-size="8.6" text-anchor="middle" textLength="21.4" lengthAdjust="spacingAndGlyphs">Day 4</text>
<line x1="639.5" y1="463.3" x2="639.5" y2="467.1" stroke="#707070" stroke-width="0.8"/>
<text x="639.8" y="477.6" font-size="8.6" text-anchor="middle" textLength="21.4" lengthAdjust="spacingAndGlyphs">Day 5</text>
<line x1="523.5" y1="449" x2="523.5" y2="455" stroke="#808080" stroke-width="0.85"/>
<line x1="520.5" y1="449.5" x2="526.3" y2="449.5" stroke="#808080" stroke-width="0.85"/>
<line x1="552.5" y1="433.4" x2="552.5" y2="440.8" stroke="#808080" stroke-width="0.85"/>
<line x1="549.5" y1="433.5" x2="555.3" y2="433.5" stroke="#808080" stroke-width="0.85"/>
<line x1="581.5" y1="402" x2="581.5" y2="418" stroke="#808080" stroke-width="0.85"/>
<line x1="578.5" y1="402.5" x2="584.3" y2="402.5" stroke="#808080" stroke-width="0.85"/>
<line x1="581.5" y1="426" x2="581.5" y2="433.5" stroke="#808080" stroke-width="0.85"/>
<line x1="578.5" y1="426.5" x2="584.3" y2="426.5" stroke="#808080" stroke-width="0.85"/>
<line x1="610.5" y1="381.4" x2="610.5" y2="403.6" stroke="#808080" stroke-width="0.85"/>
<line x1="607.7" y1="381.5" x2="613.5" y2="381.5" stroke="#808080" stroke-width="0.85"/>
<line x1="610.5" y1="389.4" x2="610.5" y2="404.4" stroke="#808080" stroke-width="0.85"/>
<line x1="607.7" y1="389.5" x2="613.5" y2="389.5" stroke="#808080" stroke-width="0.85"/>
<line x1="610.5" y1="433.4" x2="610.5" y2="443" stroke="#808080" stroke-width="0.85"/>
<line x1="607.7" y1="433.5" x2="613.5" y2="433.5" stroke="#808080" stroke-width="0.85"/>
<line x1="639.5" y1="350.4" x2="639.5" y2="377" stroke="#808080" stroke-width="0.85"/>
<line x1="636.7" y1="350.5" x2="642.5" y2="350.5" stroke="#808080" stroke-width="0.85"/>
<line x1="639.5" y1="370" x2="639.5" y2="388.4" stroke="#808080" stroke-width="0.85"/>
<line x1="636.7" y1="370.5" x2="642.5" y2="370.5" stroke="#808080" stroke-width="0.85"/>
<line x1="639.5" y1="372.6" x2="639.5" y2="389.4" stroke="#808080" stroke-width="0.85"/>
<line x1="636.7" y1="372.5" x2="642.5" y2="372.5" stroke="#808080" stroke-width="0.85"/>
<line x1="639.5" y1="428" x2="639.5" y2="439" stroke="#808080" stroke-width="0.85"/>
<line x1="636.7" y1="428.5" x2="642.5" y2="428.5" stroke="#808080" stroke-width="0.85"/>
<polyline points="523.4,458 552.4,452 581.4,444 610.6,443 639.6,439" fill="none" stroke="#231f20" stroke-width="0.8"/>
<polyline points="523.4,459.6 552.4,450.6 581.4,439 610.6,411 639.6,389.4" fill="none" stroke="#231f20" stroke-width="0.8"/>
<polyline points="523.4,455 552.4,440.8 581.4,418 610.6,403.6 639.6,377" fill="none" stroke="#231f20" stroke-width="0.8"/>
<polyline points="523.4,455.4 552.4,446 581.4,433.5 610.6,404.4 639.6,388.4" fill="none" stroke="#231f20" stroke-width="1.3" stroke-dasharray="2.6,1.4"/>
<polygon points="520.3,455.3 526.5,455.3 523.4,460.7" fill="#e3202a" stroke="#5a1515" stroke-width="0.4"/>
<polygon points="549.3,449.3 555.5,449.3 552.4,454.7" fill="#e3202a" stroke="#5a1515" stroke-width="0.4"/>
<polygon points="578.3,441.3 584.5,441.3 581.4,446.7" fill="#e3202a" stroke="#5a1515" stroke-width="0.4"/>
<polygon points="607.5,440.3 613.7,440.3 610.6,445.7" fill="#e3202a" stroke="#5a1515" stroke-width="0.4"/>
<polygon points="636.5,436.3 642.7,436.3 639.6,441.7" fill="#e3202a" stroke="#5a1515" stroke-width="0.4"/>
<rect x="520.1" y="456.3" width="6.6" height="6.6" fill="#ee9ba0" stroke="#6b3d40" stroke-width="0.6"/>
<rect x="549.1" y="447.3" width="6.6" height="6.6" fill="#ee9ba0" stroke="#6b3d40" stroke-width="0.6"/>
<rect x="578.1" y="435.7" width="6.6" height="6.6" fill="#ee9ba0" stroke="#6b3d40" stroke-width="0.6"/>
<rect x="607.3" y="407.7" width="6.6" height="6.6" fill="#ee9ba0" stroke="#6b3d40" stroke-width="0.6"/>
<rect x="636.3" y="386.1" width="6.6" height="6.6" fill="#ee9ba0" stroke="#6b3d40" stroke-width="0.6"/>
<polygon points="520.3,457.7 526.5,457.7 523.4,452.3" fill="#231f20" stroke="#231f20" stroke-width="0.3"/>
<polygon points="549.3,443.5 555.5,443.5 552.4,438.1" fill="#231f20" stroke="#231f20" stroke-width="0.3"/>
<polygon points="578.3,420.7 584.5,420.7 581.4,415.3" fill="#231f20" stroke="#231f20" stroke-width="0.3"/>
<polygon points="607.5,406.3 613.7,406.3 610.6,400.9" fill="#231f20" stroke="#231f20" stroke-width="0.3"/>
<polygon points="636.5,379.7 642.7,379.7 639.6,374.3" fill="#231f20" stroke="#231f20" stroke-width="0.3"/>
<circle cx="523.4" cy="455.4" r="3.2" fill="#dcdcdc" stroke="#4a4a4a" stroke-width="0.6"/>
<circle cx="552.4" cy="446" r="3.2" fill="#dcdcdc" stroke="#4a4a4a" stroke-width="0.6"/>
<circle cx="581.4" cy="433.5" r="3.2" fill="#dcdcdc" stroke="#4a4a4a" stroke-width="0.6"/>
<circle cx="610.6" cy="404.4" r="3.2" fill="#dcdcdc" stroke="#4a4a4a" stroke-width="0.6"/>
<circle cx="639.6" cy="388.4" r="3.2" fill="#dcdcdc" stroke="#4a4a4a" stroke-width="0.6"/>
<polyline points="647.4,372.4 656,372.4 656,385 647.4,385" fill="none" stroke="#8a8a8a" stroke-width="0.8"/>
<text x="657.6" y="381.4" font-size="8.4" textLength="10" lengthAdjust="spacingAndGlyphs">NS</text>
<polyline points="647.4,387.4 656,387.4 656,439.6 647.4,439.6" fill="none" stroke="#8a8a8a" stroke-width="0.8"/>
<text transform="translate(658.4,414) rotate(90)" x="0" y="0" font-size="8.2" text-anchor="middle" textLength="35.2" lengthAdjust="spacingAndGlyphs"><tspan font-style="italic">P</tspan> = 0.0507</text>
<text x="0.5" y="515.6" font-size="13" font-weight="bold" fill="#111" stroke="#111" stroke-width="0.45">f</text>
<text x="17.8" y="525.1" font-size="8.4" textLength="123" lengthAdjust="spacingAndGlyphs">Combination therapy - B16-F10</text>
<line x1="17.8" y1="542.5" x2="36.2" y2="542.5" stroke="#231f20" stroke-width="1" stroke-dasharray="2,1.4"/>
<circle cx="27" cy="542.3" r="3.5" fill="#dcdcdc" stroke="#4a4a4a" stroke-width="0.6"/>
<text x="40.7" y="545" font-size="8.8" textLength="30" lengthAdjust="spacingAndGlyphs">Control</text>
<line x1="126.1" y1="542.5" x2="143.9" y2="542.5" stroke="#231f20" stroke-width="0.7"/>
<polygon points="131.5,545.2 138.5,545.2 135,539.4" fill="#231f20" stroke="#231f20" stroke-width="0.3"/>
<text x="149.4" y="545" font-size="8.8" textLength="18.6" lengthAdjust="spacingAndGlyphs">IFNα</text>
<line x1="17.8" y1="565.5" x2="36.2" y2="565.5" stroke="#231f20" stroke-width="0.7"/>
<rect x="23.8" y="562.6" width="6.4" height="6.4" fill="#ee9ba0" stroke="#6b3d40" stroke-width="0.6"/>
<text x="40.7" y="568.5" font-size="8.8" textLength="71.9" lengthAdjust="spacingAndGlyphs">IMQ topical &amp; oral</text>
<line x1="126.1" y1="565.5" x2="143.9" y2="565.5" stroke="#231f20" stroke-width="0.7"/>
<polygon points="131.5,562.9 138.5,562.9 135,568.7" fill="#e3202a" stroke="#5a1515" stroke-width="0.4"/>
<text x="149.4" y="568.5" font-size="8.8" textLength="73.6" lengthAdjust="spacingAndGlyphs">IMQ topical + IFNα</text>
<line x1="39.5" y1="588.1" x2="39.5" y2="745.3" stroke="#707070" stroke-width="0.8"/>
<line x1="35.8" y1="745.5" x2="39.2" y2="745.5" stroke="#707070" stroke-width="0.8"/>
<text x="31" y="747.85" font-size="7.5" text-anchor="end" textLength="4.37" lengthAdjust="spacingAndGlyphs">0</text>
<line x1="35.8" y1="706.5" x2="39.2" y2="706.5" stroke="#707070" stroke-width="0.8"/>
<text x="31" y="708.55" font-size="7.5" text-anchor="end" textLength="8.74" lengthAdjust="spacingAndGlyphs">50</text>
<line x1="35.8" y1="666.5" x2="39.2" y2="666.5" stroke="#707070" stroke-width="0.8"/>
<text x="31" y="669.25" font-size="7.5" text-anchor="end" textLength="13.11" lengthAdjust="spacingAndGlyphs">100</text>
<line x1="35.8" y1="627.5" x2="39.2" y2="627.5" stroke="#707070" stroke-width="0.8"/>
<text x="31" y="629.95" font-size="7.5" text-anchor="end" textLength="13.11" lengthAdjust="spacingAndGlyphs">150</text>
<line x1="35.8" y1="588.5" x2="39.2" y2="588.5" stroke="#707070" stroke-width="0.8"/>
<text x="31" y="590.65" font-size="7.5" text-anchor="end" textLength="13.11" lengthAdjust="spacingAndGlyphs">200</text>
<text transform="translate(11.2,666.6) rotate(-90)" x="0" y="0" font-size="8.8" text-anchor="middle" textLength="84.5" lengthAdjust="spacingAndGlyphs">Tumor volume (mm<tspan dy="-3.6" font-size="5.8">3</tspan><tspan dy="3.6">)</tspan></text>
<line x1="39.2" y1="745.5" x2="197.9" y2="745.5" stroke="#707070" stroke-width="0.8"/>
<line x1="59.5" y1="745.3" x2="59.5" y2="749.3" stroke="#707070" stroke-width="0.8"/>
<text transform="translate(60.9,757.8) rotate(-45)" x="0" y="0" font-size="8.6" text-anchor="end" textLength="20.4" lengthAdjust="spacingAndGlyphs">Day 1</text>
<line x1="88.5" y1="745.3" x2="88.5" y2="749.3" stroke="#707070" stroke-width="0.8"/>
<text transform="translate(90.2,757.8) rotate(-45)" x="0" y="0" font-size="8.6" text-anchor="end" textLength="21.4" lengthAdjust="spacingAndGlyphs">Day 2</text>
<line x1="118.5" y1="745.3" x2="118.5" y2="749.3" stroke="#707070" stroke-width="0.8"/>
<text transform="translate(119.9,757.8) rotate(-45)" x="0" y="0" font-size="8.6" text-anchor="end" textLength="21.4" lengthAdjust="spacingAndGlyphs">Day 3</text>
<line x1="148.5" y1="745.3" x2="148.5" y2="749.3" stroke="#707070" stroke-width="0.8"/>
<text transform="translate(149.6,757.8) rotate(-45)" x="0" y="0" font-size="8.6" text-anchor="end" textLength="21.4" lengthAdjust="spacingAndGlyphs">Day 4</text>
<line x1="177.5" y1="745.3" x2="177.5" y2="749.3" stroke="#707070" stroke-width="0.8"/>
<text transform="translate(179.2,757.8) rotate(-45)" x="0" y="0" font-size="8.6" text-anchor="end" textLength="21.4" lengthAdjust="spacingAndGlyphs">Day 5</text>
<line x1="88.5" y1="716" x2="88.5" y2="725" stroke="#808080" stroke-width="0.85"/>
<line x1="85.7" y1="716.5" x2="91.5" y2="716.5" stroke="#808080" stroke-width="0.85"/>
<line x1="85.7" y1="725.5" x2="91.5" y2="725.5" stroke="#808080" stroke-width="0.85"/>
<line x1="118.5" y1="714.3" x2="118.5" y2="728.3" stroke="#808080" stroke-width="0.85"/>
<line x1="115.4" y1="714.5" x2="121.2" y2="714.5" stroke="#808080" stroke-width="0.85"/>
<line x1="115.4" y1="728.5" x2="121.2" y2="728.5" stroke="#808080" stroke-width="0.85"/>
<line x1="148.5" y1="651.5" x2="148.5" y2="673.3" stroke="#808080" stroke-width="0.85"/>
<line x1="145.1" y1="651.5" x2="150.9" y2="651.5" stroke="#808080" stroke-width="0.85"/>
<line x1="145.1" y1="673.5" x2="150.9" y2="673.5" stroke="#808080" stroke-width="0.85"/>
<line x1="148.5" y1="671.4" x2="148.5" y2="707.2" stroke="#808080" stroke-width="0.85"/>
<line x1="145.1" y1="671.5" x2="150.9" y2="671.5" stroke="#808080" stroke-width="0.85"/>
<line x1="145.1" y1="707.5" x2="150.9" y2="707.5" stroke="#808080" stroke-width="0.85"/>
<line x1="177.5" y1="603.7" x2="177.5" y2="638.5" stroke="#808080" stroke-width="0.85"/>
<line x1="174.7" y1="603.5" x2="180.5" y2="603.5" stroke="#808080" stroke-width="0.85"/>
<line x1="174.7" y1="638.5" x2="180.5" y2="638.5" stroke="#808080" stroke-width="0.85"/>
<line x1="177.5" y1="616.7" x2="177.5" y2="684" stroke="#808080" stroke-width="0.85"/>
<line x1="174.7" y1="616.5" x2="180.5" y2="616.5" stroke="#808080" stroke-width="0.85"/>
<line x1="174.7" y1="684.5" x2="180.5" y2="684.5" stroke="#808080" stroke-width="0.85"/>
<line x1="148.5" y1="724.3" x2="148.5" y2="739.2" stroke="#808080" stroke-width="0.85"/>
<line x1="145.1" y1="724.5" x2="150.9" y2="724.5" stroke="#808080" stroke-width="0.85"/>
<line x1="145.1" y1="739.5" x2="150.9" y2="739.5" stroke="#808080" stroke-width="0.85"/>
<line x1="177.5" y1="724.4" x2="177.5" y2="738.4" stroke="#808080" stroke-width="0.85"/>
<line x1="174.7" y1="724.5" x2="180.5" y2="724.5" stroke="#808080" stroke-width="0.85"/>
<line x1="174.7" y1="738.5" x2="180.5" y2="738.5" stroke="#808080" stroke-width="0.85"/>
<polyline points="59.3,741 88.6,737.3 118.3,732.3 148,728.5 177.6,728.9" fill="none" stroke="#231f20" stroke-width="0.8"/>
<polyline points="59.3,740.5 88.6,728.3 118.3,730.5 148,736.3 177.6,735.3" fill="none" stroke="#231f20" stroke-width="0.8"/>
<polyline points="59.3,740 88.6,724.5 118.3,721.3 148,689.4 177.6,651.1" fill="none" stroke="#231f20" stroke-width="0.8"/>
<polyline points="59.3,738.5 88.6,720.6 118.3,701.1 148,662.4 177.6,621.1" fill="none" stroke="#231f20" stroke-width="1.3" stroke-dasharray="2.6,1.4"/>
<rect x="56" y="737.7" width="6.6" height="6.6" fill="#ee9ba0" stroke="#6b3d40" stroke-width="0.6"/>
<rect x="85.3" y="734" width="6.6" height="6.6" fill="#ee9ba0" stroke="#6b3d40" stroke-width="0.6"/>
<rect x="115" y="729" width="6.6" height="6.6" fill="#ee9ba0" stroke="#6b3d40" stroke-width="0.6"/>
<rect x="144.7" y="725.2" width="6.6" height="6.6" fill="#ee9ba0" stroke="#6b3d40" stroke-width="0.6"/>
<rect x="174.3" y="725.6" width="6.6" height="6.6" fill="#ee9ba0" stroke="#6b3d40" stroke-width="0.6"/>
<polygon points="56.2,737.8 62.4,737.8 59.3,743.2" fill="#e3202a" stroke="#5a1515" stroke-width="0.4"/>
<polygon points="85.5,725.6 91.7,725.6 88.6,731" fill="#e3202a" stroke="#5a1515" stroke-width="0.4"/>
<polygon points="115.2,727.8 121.4,727.8 118.3,733.2" fill="#e3202a" stroke="#5a1515" stroke-width="0.4"/>
<polygon points="144.9,733.6 151.1,733.6 148,739" fill="#e3202a" stroke="#5a1515" stroke-width="0.4"/>
<polygon points="174.5,732.6 180.7,732.6 177.6,738" fill="#e3202a" stroke="#5a1515" stroke-width="0.4"/>
<polygon points="56.2,742.7 62.4,742.7 59.3,737.3" fill="#231f20" stroke="#231f20" stroke-width="0.3"/>
<polygon points="85.5,727.2 91.7,727.2 88.6,721.8" fill="#231f20" stroke="#231f20" stroke-width="0.3"/>
<polygon points="115.2,724 121.4,724 118.3,718.6" fill="#231f20" stroke="#231f20" stroke-width="0.3"/>
<polygon points="144.9,692.1 151.1,692.1 148,686.7" fill="#231f20" stroke="#231f20" stroke-width="0.3"/>
<polygon points="174.5,653.8 180.7,653.8 177.6,648.4" fill="#231f20" stroke="#231f20" stroke-width="0.3"/>
<circle cx="59.3" cy="738.5" r="3.2" fill="#dcdcdc" stroke="#4a4a4a" stroke-width="0.6"/>
<circle cx="88.6" cy="720.6" r="3.2" fill="#dcdcdc" stroke="#4a4a4a" stroke-width="0.6"/>
<circle cx="118.3" cy="701.1" r="3.2" fill="#dcdcdc" stroke="#4a4a4a" stroke-width="0.6"/>
<circle cx="148" cy="662.4" r="3.2" fill="#dcdcdc" stroke="#4a4a4a" stroke-width="0.6"/>
<circle cx="177.6" cy="621.1" r="3.2" fill="#dcdcdc" stroke="#4a4a4a" stroke-width="0.6"/>
<polyline points="183,622.4 191.3,622.4 191.3,645.4 183,645.4" fill="none" stroke="#8a8a8a" stroke-width="0.8"/>
<text transform="translate(193.4,633.6) rotate(90)" x="0" y="0" font-size="8.4" text-anchor="middle" textLength="10" lengthAdjust="spacingAndGlyphs">NS</text>
<polyline points="183,647.2 190.6,647.2 190.6,730.4 183,730.4" fill="none" stroke="#8a8a8a" stroke-width="0.8"/>
<text transform="translate(192.6,689) rotate(90)" x="0" y="0" font-size="8.2" text-anchor="middle" textLength="35.2" lengthAdjust="spacingAndGlyphs"><tspan font-style="italic">P</tspan> = 0.0005</text>
<polyline points="193.4,622.4 201,622.4 201,724.6 193.4,724.6" fill="none" stroke="#8a8a8a" stroke-width="0.8"/>
<polyline points="203,622.4 210.4,622.4 210.4,734 203,734" fill="none" stroke="#8a8a8a" stroke-width="0.8"/>
<text transform="translate(215.2,677.6) rotate(90)" x="0" y="0" font-size="8.2" text-anchor="middle" textLength="36.1" lengthAdjust="spacingAndGlyphs"><tspan font-style="italic">P</tspan> &lt; 0.0001</text>
<text x="242.8" y="516.4" font-size="13" font-weight="bold" fill="#111" stroke="#111" stroke-width="0.45">g</text>
<text x="261" y="525.3" font-size="8.4" textLength="105.7" lengthAdjust="spacingAndGlyphs">Combination therapy - 4T1</text>
<line x1="264.5" y1="543.5" x2="269.6" y2="543.5" stroke="#231f20" stroke-width="0.7"/>
<line x1="269.6" y1="543.5" x2="279" y2="543.5" stroke="#231f20" stroke-width="1" stroke-dasharray="2,1.4"/>
<circle cx="269.6" cy="543.5" r="3.5" fill="#dcdcdc" stroke="#4a4a4a" stroke-width="0.6"/>
<text x="283.9" y="546.4" font-size="8.8" textLength="30.1" lengthAdjust="spacingAndGlyphs">Control</text>
<line x1="343.2" y1="543.5" x2="362.2" y2="543.5" stroke="#231f20" stroke-width="0.7"/>
<polygon points="349.2,546.7 356.2,546.7 352.7,540.9" fill="#231f20" stroke="#231f20" stroke-width="0.3"/>
<text x="366" y="546.4" font-size="8.8" textLength="18.6" lengthAdjust="spacingAndGlyphs">IFNα</text>
<line x1="261" y1="565.5" x2="278.8" y2="565.5" stroke="#231f20" stroke-width="0.7"/>
<rect x="266.7" y="561.8" width="6.4" height="6.4" fill="#ee9ba0" stroke="#6b3d40" stroke-width="0.6"/>
<text x="283.9" y="567.6" font-size="8.8" textLength="46" lengthAdjust="spacingAndGlyphs">IMQ topical</text>
<line x1="343.2" y1="565.5" x2="362.2" y2="565.5" stroke="#231f20" stroke-width="0.7"/>
<polygon points="349.2,562.1 356.2,562.1 352.7,567.9" fill="#e3202a" stroke="#5a1515" stroke-width="0.4"/>
<text x="366" y="567.6" font-size="8.8" textLength="74.4" lengthAdjust="spacingAndGlyphs">IMQ topical + IFNα</text>
<line x1="283.5" y1="587.4" x2="283.5" y2="745.4" stroke="#707070" stroke-width="0.8"/>
<line x1="280" y1="745.5" x2="283.4" y2="745.5" stroke="#707070" stroke-width="0.8"/>
<text x="274.9" y="747.95" font-size="7.5" text-anchor="end" textLength="4.6" lengthAdjust="spacingAndGlyphs">0</text>
<line x1="280" y1="713.5" x2="283.4" y2="713.5" stroke="#707070" stroke-width="0.8"/>
<text x="274.9" y="716.35" font-size="7.5" text-anchor="end" textLength="13.8" lengthAdjust="spacingAndGlyphs">200</text>
<line x1="280" y1="682.5" x2="283.4" y2="682.5" stroke="#707070" stroke-width="0.8"/>
<text x="274.9" y="684.75" font-size="7.5" text-anchor="end" textLength="13.8" lengthAdjust="spacingAndGlyphs">400</text>
<line x1="280" y1="650.5" x2="283.4" y2="650.5" stroke="#707070" stroke-width="0.8"/>
<text x="274.9" y="653.15" font-size="7.5" text-anchor="end" textLength="13.8" lengthAdjust="spacingAndGlyphs">600</text>
<line x1="280" y1="619.5" x2="283.4" y2="619.5" stroke="#707070" stroke-width="0.8"/>
<text x="274.9" y="621.55" font-size="7.5" text-anchor="end" textLength="13.8" lengthAdjust="spacingAndGlyphs">800</text>
<line x1="280" y1="587.5" x2="283.4" y2="587.5" stroke="#707070" stroke-width="0.8"/>
<text x="274.9" y="589.95" font-size="7.5" text-anchor="end" textLength="19.7" lengthAdjust="spacingAndGlyphs">1,000</text>
<text transform="translate(254.4,666.3) rotate(-90)" x="0" y="0" font-size="8.8" text-anchor="middle" textLength="84.5" lengthAdjust="spacingAndGlyphs">Tumor volume (mm<tspan dy="-3.6" font-size="5.8">3</tspan><tspan dy="3.6">)</tspan></text>
<line x1="283.4" y1="745.5" x2="442.8" y2="745.5" stroke="#707070" stroke-width="0.8"/>
<line x1="301.5" y1="745.4" x2="301.5" y2="749.4" stroke="#707070" stroke-width="0.8"/>
<text transform="translate(303,757.8) rotate(-45)" x="0" y="0" font-size="8.6" text-anchor="end" textLength="21.4" lengthAdjust="spacingAndGlyphs">Day 3</text>
<line x1="336.5" y1="745.4" x2="336.5" y2="749.4" stroke="#707070" stroke-width="0.8"/>
<text transform="translate(338.7,757.8) rotate(-45)" x="0" y="0" font-size="8.6" text-anchor="end" textLength="21.4" lengthAdjust="spacingAndGlyphs">Day 9</text>
<line x1="372.5" y1="745.4" x2="372.5" y2="749.4" stroke="#707070" stroke-width="0.8"/>
<text transform="translate(374.5,757.8) rotate(-45)" x="0" y="0" font-size="8.6" text-anchor="end" textLength="25.2" lengthAdjust="spacingAndGlyphs">Day 15</text>
<line x1="408.5" y1="745.4" x2="408.5" y2="749.4" stroke="#707070" stroke-width="0.8"/>
<text transform="translate(410.6,757.8) rotate(-45)" x="0" y="0" font-size="8.6" text-anchor="end" textLength="25.2" lengthAdjust="spacingAndGlyphs">Day 21</text>
<line x1="432.5" y1="745.4" x2="432.5" y2="749.4" stroke="#707070" stroke-width="0.8"/>
<text transform="translate(434.6,757.8) rotate(-45)" x="0" y="0" font-size="8.6" text-anchor="end" textLength="25.2" lengthAdjust="spacingAndGlyphs">Day 24</text>
<line x1="307.5" y1="600" x2="307.5" y2="641" stroke="#e8a3a8" stroke-width="0.9"/>
<text transform="translate(302.4,620) rotate(-90)" x="0" y="0" font-size="8.2" text-anchor="middle" textLength="32" lengthAdjust="spacingAndGlyphs">Therapy</text>
<line x1="313" y1="587.5" x2="313" y2="745" stroke="#231f20" stroke-width="1.5" stroke-dasharray="1.4,1.8"/>
<text x="328.6" y="607" font-size="8.4" textLength="50.8" lengthAdjust="spacingAndGlyphs">Post-therapy</text>
<line x1="333.4" y1="610.5" x2="374.6" y2="610.5" stroke="#5aa68a" stroke-width="0.9"/>
<line x1="432.5" y1="603.6" x2="432.5" y2="620.4" stroke="#808080" stroke-width="0.85"/>
<line x1="429.8" y1="603.5" x2="435.6" y2="603.5" stroke="#808080" stroke-width="0.85"/>
<line x1="429.8" y1="620.5" x2="435.6" y2="620.5" stroke="#808080" stroke-width="0.85"/>
<line x1="432.5" y1="626.2" x2="432.5" y2="639.6" stroke="#808080" stroke-width="0.85"/>
<line x1="429.8" y1="626.5" x2="435.6" y2="626.5" stroke="#808080" stroke-width="0.85"/>
<line x1="429.8" y1="639.5" x2="435.6" y2="639.5" stroke="#808080" stroke-width="0.85"/>
<line x1="432.5" y1="628.3" x2="432.5" y2="643.7" stroke="#808080" stroke-width="0.85"/>
<line x1="429.8" y1="628.5" x2="435.6" y2="628.5" stroke="#808080" stroke-width="0.85"/>
<line x1="429.8" y1="643.5" x2="435.6" y2="643.5" stroke="#808080" stroke-width="0.85"/>
<line x1="432.5" y1="648.4" x2="432.5" y2="673.5" stroke="#808080" stroke-width="0.85"/>
<line x1="429.8" y1="648.5" x2="435.6" y2="648.5" stroke="#808080" stroke-width="0.85"/>
<line x1="429.8" y1="673.5" x2="435.6" y2="673.5" stroke="#808080" stroke-width="0.85"/>
<line x1="420.5" y1="617" x2="420.5" y2="636" stroke="#808080" stroke-width="0.85"/>
<line x1="417.8" y1="617.5" x2="423.6" y2="617.5" stroke="#808080" stroke-width="0.85"/>
<line x1="417.8" y1="636.5" x2="423.6" y2="636.5" stroke="#808080" stroke-width="0.85"/>
<line x1="420.5" y1="639.6" x2="420.5" y2="656.4" stroke="#808080" stroke-width="0.85"/>
<line x1="417.8" y1="639.5" x2="423.6" y2="639.5" stroke="#808080" stroke-width="0.85"/>
<line x1="417.8" y1="656.5" x2="423.6" y2="656.5" stroke="#808080" stroke-width="0.85"/>
<line x1="420.5" y1="672" x2="420.5" y2="688" stroke="#808080" stroke-width="0.85"/>
<line x1="417.8" y1="672.5" x2="423.6" y2="672.5" stroke="#808080" stroke-width="0.85"/>
<line x1="417.8" y1="688.5" x2="423.6" y2="688.5" stroke="#808080" stroke-width="0.85"/>
<line x1="408.5" y1="632.8" x2="408.5" y2="646.2" stroke="#808080" stroke-width="0.85"/>
<line x1="405.8" y1="632.5" x2="411.6" y2="632.5" stroke="#808080" stroke-width="0.85"/>
<line x1="405.8" y1="646.5" x2="411.6" y2="646.5" stroke="#808080" stroke-width="0.85"/>
<line x1="408.5" y1="657.9" x2="408.5" y2="667.8" stroke="#808080" stroke-width="0.85"/>
<line x1="405.8" y1="657.5" x2="411.6" y2="657.5" stroke="#808080" stroke-width="0.85"/>
<line x1="405.8" y1="667.5" x2="411.6" y2="667.5" stroke="#808080" stroke-width="0.85"/>
<line x1="408.5" y1="682" x2="408.5" y2="694" stroke="#808080" stroke-width="0.85"/>
<line x1="405.8" y1="682.5" x2="411.6" y2="682.5" stroke="#808080" stroke-width="0.85"/>
<line x1="405.8" y1="694.5" x2="411.6" y2="694.5" stroke="#808080" stroke-width="0.85"/>
<line x1="396.5" y1="662" x2="396.5" y2="675" stroke="#808080" stroke-width="0.85"/>
<line x1="393.8" y1="662.5" x2="399.6" y2="662.5" stroke="#808080" stroke-width="0.85"/>
<line x1="393.8" y1="675.5" x2="399.6" y2="675.5" stroke="#808080" stroke-width="0.85"/>
<line x1="396.5" y1="672" x2="396.5" y2="683" stroke="#808080" stroke-width="0.85"/>
<line x1="393.8" y1="672.5" x2="399.6" y2="672.5" stroke="#808080" stroke-width="0.85"/>
<line x1="393.8" y1="683.5" x2="399.6" y2="683.5" stroke="#808080" stroke-width="0.85"/>
<line x1="378.5" y1="691" x2="378.5" y2="701" stroke="#808080" stroke-width="0.85"/>
<line x1="375.6" y1="691.5" x2="381.4" y2="691.5" stroke="#808080" stroke-width="0.85"/>
<line x1="375.6" y1="701.5" x2="381.4" y2="701.5" stroke="#808080" stroke-width="0.85"/>
<polyline points="289,742 295,741.5 301.2,741 307,739.8 313.3,738.4 325,738.4 336.8,734.8 354.8,729 366.6,721.6 378.5,718.7 396.7,700.5 408.7,688 420.7,680 432.7,660.6" fill="none" stroke="#231f20" stroke-width="0.8"/>
<polyline points="289,741.5 295,741 301.2,739.5 307,737.6 313.3,735 325,734 336.8,731 354.8,725 366.6,716 378.5,706.7 396.7,682.4 408.7,649.4 420.7,649.8 432.7,636" fill="none" stroke="#231f20" stroke-width="0.8"/>
<polyline points="289,741.6 295,741 301.2,740 307,736.2 313.3,733.3 325,733.3 336.8,728.7 354.8,719.9 366.6,710.6 378.5,702.8 396.7,677.3 408.7,662.3 420.7,646 432.7,632.9" fill="none" stroke="#231f20" stroke-width="0.8"/>
<polyline points="289,741 295,740 301.2,737.4 307,731.8 313.3,729 325,727.4 336.8,722.3 354.8,713.5 366.6,705.2 378.5,696 396.7,668.4 408.7,639.5 420.7,626.5 432.7,612" fill="none" stroke="#231f20" stroke-width="1.3" stroke-dasharray="2.6,1.4"/>
<polygon points="285.9,739.3 292.1,739.3 289,744.7" fill="#e3202a" stroke="#5a1515" stroke-width="0.4"/>
<polygon points="291.9,738.8 298.1,738.8 295,744.2" fill="#e3202a" stroke="#5a1515" stroke-width="0.4"/>
<polygon points="298.1,738.3 304.3,738.3 301.2,743.7" fill="#e3202a" stroke="#5a1515" stroke-width="0.4"/>
<polygon points="303.9,737.1 310.1,737.1 307,742.5" fill="#e3202a" stroke="#5a1515" stroke-width="0.4"/>
<polygon points="310.2,735.7 316.4,735.7 313.3,741.1" fill="#e3202a" stroke="#5a1515" stroke-width="0.4"/>
<polygon points="321.9,735.7 328.1,735.7 325,741.1" fill="#e3202a" stroke="#5a1515" stroke-width="0.4"/>
<polygon points="333.7,732.1 339.9,732.1 336.8,737.5" fill="#e3202a" stroke="#5a1515" stroke-width="0.4"/>
<polygon points="351.7,726.3 357.9,726.3 354.8,731.7" fill="#e3202a" stroke="#5a1515" stroke-width="0.4"/>
<polygon points="363.5,718.9 369.7,718.9 366.6,724.3" fill="#e3202a" stroke="#5a1515" stroke-width="0.4"/>
<polygon points="375.4,716 381.6,716 378.5,721.4" fill="#e3202a" stroke="#5a1515" stroke-width="0.4"/>
<polygon points="393.6,697.8 399.8,697.8 396.7,703.2" fill="#e3202a" stroke="#5a1515" stroke-width="0.4"/>
<polygon points="405.6,685.3 411.8,685.3 408.7,690.7" fill="#e3202a" stroke="#5a1515" stroke-width="0.4"/>
<polygon points="417.6,677.3 423.8,677.3 420.7,682.7" fill="#e3202a" stroke="#5a1515" stroke-width="0.4"/>
<polygon points="429.6,657.9 435.8,657.9 432.7,663.3" fill="#e3202a" stroke="#5a1515" stroke-width="0.4"/>
<polygon points="285.9,744.2 292.1,744.2 289,738.8" fill="#231f20" stroke="#231f20" stroke-width="0.3"/>
<polygon points="291.9,743.7 298.1,743.7 295,738.3" fill="#231f20" stroke="#231f20" stroke-width="0.3"/>
<polygon points="298.1,742.2 304.3,742.2 301.2,736.8" fill="#231f20" stroke="#231f20" stroke-width="0.3"/>
<polygon points="303.9,740.3 310.1,740.3 307,734.9" fill="#231f20" stroke="#231f20" stroke-width="0.3"/>
<polygon points="310.2,737.7 316.4,737.7 313.3,732.3" fill="#231f20" stroke="#231f20" stroke-width="0.3"/>
<polygon points="321.9,736.7 328.1,736.7 325,731.3" fill="#231f20" stroke="#231f20" stroke-width="0.3"/>
<polygon points="333.7,733.7 339.9,733.7 336.8,728.3" fill="#231f20" stroke="#231f20" stroke-width="0.3"/>
<polygon points="351.7,727.7 357.9,727.7 354.8,722.3" fill="#231f20" stroke="#231f20" stroke-width="0.3"/>
<polygon points="363.5,718.7 369.7,718.7 366.6,713.3" fill="#231f20" stroke="#231f20" stroke-width="0.3"/>
<polygon points="375.4,709.4 381.6,709.4 378.5,704" fill="#231f20" stroke="#231f20" stroke-width="0.3"/>
<polygon points="393.6,685.1 399.8,685.1 396.7,679.7" fill="#231f20" stroke="#231f20" stroke-width="0.3"/>
<polygon points="405.6,652.1 411.8,652.1 408.7,646.7" fill="#231f20" stroke="#231f20" stroke-width="0.3"/>
<polygon points="417.6,652.5 423.8,652.5 420.7,647.1" fill="#231f20" stroke="#231f20" stroke-width="0.3"/>
<polygon points="429.6,638.7 435.8,638.7 432.7,633.3" fill="#231f20" stroke="#231f20" stroke-width="0.3"/>
<rect x="285.7" y="738.3" width="6.6" height="6.6" fill="#ee9ba0" stroke="#6b3d40" stroke-width="0.6"/>
<rect x="291.7" y="737.7" width="6.6" height="6.6" fill="#ee9ba0" stroke="#6b3d40" stroke-width="0.6"/>
<rect x="297.9" y="736.7" width="6.6" height="6.6" fill="#ee9ba0" stroke="#6b3d40" stroke-width="0.6"/>
<rect x="303.7" y="732.9" width="6.6" height="6.6" fill="#ee9ba0" stroke="#6b3d40" stroke-width="0.6"/>
<rect x="310" y="730" width="6.6" height="6.6" fill="#ee9ba0" stroke="#6b3d40" stroke-width="0.6"/>
<rect x="321.7" y="730" width="6.6" height="6.6" fill="#ee9ba0" stroke="#6b3d40" stroke-width="0.6"/>
<rect x="333.5" y="725.4" width="6.6" height="6.6" fill="#ee9ba0" stroke="#6b3d40" stroke-width="0.6"/>
<rect x="351.5" y="716.6" width="6.6" height="6.6" fill="#ee9ba0" stroke="#6b3d40" stroke-width="0.6"/>
<rect x="363.3" y="707.3" width="6.6" height="6.6" fill="#ee9ba0" stroke="#6b3d40" stroke-width="0.6"/>
<rect x="375.2" y="699.5" width="6.6" height="6.6" fill="#ee9ba0" stroke="#6b3d40" stroke-width="0.6"/>
<rect x="393.4" y="674" width="6.6" height="6.6" fill="#ee9ba0" stroke="#6b3d40" stroke-width="0.6"/>
<rect x="405.4" y="659" width="6.6" height="6.6" fill="#ee9ba0" stroke="#6b3d40" stroke-width="0.6"/>
<rect x="417.4" y="642.7" width="6.6" height="6.6" fill="#ee9ba0" stroke="#6b3d40" stroke-width="0.6"/>
<rect x="429.4" y="629.6" width="6.6" height="6.6" fill="#ee9ba0" stroke="#6b3d40" stroke-width="0.6"/>
<circle cx="289" cy="741" r="3.2" fill="#dcdcdc" stroke="#4a4a4a" stroke-width="0.6"/>
<circle cx="295" cy="740" r="3.2" fill="#dcdcdc" stroke="#4a4a4a" stroke-width="0.6"/>
<circle cx="301.2" cy="737.4" r="3.2" fill="#dcdcdc" stroke="#4a4a4a" stroke-width="0.6"/>
<circle cx="307" cy="731.8" r="3.2" fill="#dcdcdc" stroke="#4a4a4a" stroke-width="0.6"/>
<circle cx="313.3" cy="729" r="3.2" fill="#dcdcdc" stroke="#4a4a4a" stroke-width="0.6"/>
<circle cx="325" cy="727.4" r="3.2" fill="#dcdcdc" stroke="#4a4a4a" stroke-width="0.6"/>
<circle cx="336.8" cy="722.3" r="3.2" fill="#dcdcdc" stroke="#4a4a4a" stroke-width="0.6"/>
<circle cx="354.8" cy="713.5" r="3.2" fill="#dcdcdc" stroke="#4a4a4a" stroke-width="0.6"/>
<circle cx="366.6" cy="705.2" r="3.2" fill="#dcdcdc" stroke="#4a4a4a" stroke-width="0.6"/>
<circle cx="378.5" cy="696" r="3.2" fill="#dcdcdc" stroke="#4a4a4a" stroke-width="0.6"/>
<circle cx="396.7" cy="668.4" r="3.2" fill="#dcdcdc" stroke="#4a4a4a" stroke-width="0.6"/>
<circle cx="408.7" cy="639.5" r="3.2" fill="#dcdcdc" stroke="#4a4a4a" stroke-width="0.6"/>
<circle cx="420.7" cy="626.5" r="3.2" fill="#dcdcdc" stroke="#4a4a4a" stroke-width="0.6"/>
<circle cx="432.7" cy="612" r="3.2" fill="#dcdcdc" stroke="#4a4a4a" stroke-width="0.6"/>
<polyline points="436.6,611.2 445.4,611.2 445.4,631.6 436.6,631.6" fill="none" stroke="#8a8a8a" stroke-width="0.8"/>
<text transform="translate(446.6,621) rotate(90)" x="0" y="0" font-size="8.4" text-anchor="middle" textLength="10" lengthAdjust="spacingAndGlyphs">NS</text>
<polyline points="447.6,611.2 456,611.2 456,664.5 447.6,664.5" fill="none" stroke="#8a8a8a" stroke-width="0.8"/>
<text transform="translate(458.2,638) rotate(90)" x="0" y="0" font-size="8.2" text-anchor="middle" textLength="35.2" lengthAdjust="spacingAndGlyphs"><tspan font-style="italic">P</tspan> = 0.0063</text>
<text x="485.6" y="516" font-size="13" font-weight="bold" fill="#111" stroke="#111" stroke-width="0.45">h</text>
<text x="505.9" y="514.6" font-size="8.8" textLength="31.4" lengthAdjust="spacingAndGlyphs">7.5 × 10<tspan dy="-3.4" font-size="5.6">6</tspan></text>
<text x="509.7" y="657.4" font-size="8.8" textLength="26.6" lengthAdjust="spacingAndGlyphs">5 × 10<tspan dy="-3.4" font-size="5.6">4</tspan></text>
<defs>
<linearGradient id="cb" x1="0" y1="0" x2="0" y2="1">
<stop offset="0" stop-color="#e8262b"/><stop offset="0.12" stop-color="#ef5a24"/>
<stop offset="0.22" stop-color="#f79a1f"/><stop offset="0.33" stop-color="#f2e41c"/>
<stop offset="0.45" stop-color="#a6cd3a"/><stop offset="0.6" stop-color="#4eb847"/>
<stop offset="0.78" stop-color="#39ad6c"/><stop offset="0.88" stop-color="#3fb6b5"/>
<stop offset="0.94" stop-color="#2aa8e0"/><stop offset="1" stop-color="#2b4fa6"/>
</linearGradient>
<filter id="bl1" x="-20%" y="-20%" width="140%" height="140%"><feGaussianBlur stdDeviation="0.9"/></filter>
<filter id="bl2" x="-20%" y="-20%" width="140%" height="140%"><feGaussianBlur stdDeviation="1.6"/></filter>
<filter id="bl05" x="-20%" y="-20%" width="140%" height="140%"><feGaussianBlur stdDeviation="0.5"/></filter>
<radialGradient id="blobA" cx="0.5" cy="0.5" r="0.5">
<stop offset="0" stop-color="#2e9a48"/><stop offset="0.12" stop-color="#62b848"/>
<stop offset="0.2" stop-color="#ee9a2e"/><stop offset="0.5" stop-color="#ee9830"/>
<stop offset="0.6" stop-color="#7cc24a"/><stop offset="0.7" stop-color="#3cbf7a"/>
<stop offset="0.8" stop-color="#3ec3e2"/><stop offset="0.9" stop-color="#4a63d4"/>
<stop offset="1" stop-color="#6f55c8"/>
</radialGradient>
<radialGradient id="blobB" cx="0.5" cy="0.5" r="0.5">
<stop offset="0" stop-color="#0b7d3e"/><stop offset="0.14" stop-color="#1f9a4a"/>
<stop offset="0.24" stop-color="#6cbd48"/><stop offset="0.34" stop-color="#e8a42c"/>
<stop offset="0.42" stop-color="#e8b030"/><stop offset="0.5" stop-color="#8cc444"/>
<stop offset="0.6" stop-color="#44bb5c"/><stop offset="0.68" stop-color="#3ec6d8"/>
<stop offset="0.78" stop-color="#4b7ad8"/><stop offset="0.9" stop-color="#6a5cc8"/>
<stop offset="1" stop-color="#8a76cc"/>
</radialGradient>
<clipPath id="cpA"><rect x="544.1" y="508.1" width="43.8" height="154.3"/></clipPath>
<clipPath id="cpB"><rect x="591.6" y="508.1" width="44" height="154.3"/></clipPath>
</defs>
<polygon points="521,520.2 525.9,520.2 525.9,642.4 521,636" fill="url(#cb)"/>
<text transform="translate(515.4,582.6) rotate(-90)" x="0" y="0" font-size="9" text-anchor="middle" textLength="67.5" lengthAdjust="spacingAndGlyphs">Bioluminescence</text>
<defs>
<filter id="noise" x="0" y="0" width="100%" height="100%">
<feTurbulence type="fractalNoise" baseFrequency="0.16" numOctaves="2" seed="7"/>
<feColorMatrix type="matrix" values="0.5 0.5 0 0 0  0.5 0.5 0 0 0  0.5 0.5 0 0 0  0 0 0 0 1"/>
<feComponentTransfer><feFuncR type="linear" slope="1.8" intercept="-0.35"/><feFuncG type="linear" slope="1.8" intercept="-0.35"/><feFuncB type="linear" slope="1.8" intercept="-0.35"/></feComponentTransfer>
</filter>
<linearGradient id="shadeH" x1="0" y1="0" x2="1" y2="0">
<stop offset="0" stop-color="#8a8a8a"/><stop offset="0.2" stop-color="#cfcfcf"/><stop offset="0.5" stop-color="#ececec"/><stop offset="0.8" stop-color="#d2d2d2"/><stop offset="1" stop-color="#8e8e8e"/>
</linearGradient>
<clipPath id="bodyA"><path d="M565.5,513 L572,513 C575,519 578,525 579,531 C582,536 583.5,545 584,556 C584.5,570 584.5,585 583,595 C581,603 578,607 574,608 L560,608 C555,603 551.5,595 550.5,585 C549.5,570 550,552 552,542 C553.5,535 557,530 561,527 C562.5,522 564,517 565.5,513 Z"/></clipPath>
<clipPath id="bodyB"><path d="M614,515 L620.5,515 C623,521 626,527 627,533 C630,540 632,550 632.5,562 C633,578 633,592 632,603 C631,612 629,618 626,622 L604,622 C600,615 597.5,605 597,592 C596.5,575 598,556 601.5,545 C603.5,538 606.5,532 609.5,528 C611,523 612.5,518 614,515 Z"/></clipPath>
</defs>
<rect x="544.1" y="508.1" width="43.8" height="154.3" fill="#080808" stroke="none" stroke-width="0"/>
<g clip-path="url(#cpA)">
<rect x="579.5" y="511" width="1.4" height="27" fill="#3c3c3c" filter="url(#bl05)"/>
<rect x="546.5" y="515" width="1.2" height="70" fill="#1a1a1a"/>
<path d="M563.5,604 C558,612 555.5,622 556,636 C556.5,648 558.5,656 560.5,663" fill="none" stroke="#bdbdbd" stroke-width="2.1" filter="url(#bl05)"/>
<ellipse cx="583.6" cy="540.5" rx="3.2" ry="5.2" fill="#7d7d7d" filter="url(#bl05)"/>
<g clip-path="url(#bodyA)" filter="url(#bl05)">
<rect x="549" y="508" width="36" height="110" fill="url(#shadeH)"/>
<rect x="544" y="508" width="44" height="110" filter="url(#noise)" opacity="0.3"/>
</g>
<path d="M565.8,512 L571.8,512 C573.5,517 575.5,522 577.5,528 C574,531 563,531 559.8,528 C561.8,522 563.8,517 565.8,512 Z" fill="#858585" filter="url(#bl1)"/>
<rect x="566.6" y="508.6" width="0.9" height="11" fill="#bdbdbd"/><rect x="569.6" y="508.6" width="0.9" height="11" fill="#bdbdbd"/>
<circle cx="566.9" cy="526.6" r="0.8" fill="#f0f0f0"/><circle cx="570.4" cy="526.6" r="0.8" fill="#f0f0f0"/>
<ellipse cx="570.5" cy="546.3" rx="4" ry="2.8" fill="#8c8c8c" filter="url(#bl05)"/>
<path d="M551.5,550 C555,547.5 562,546.8 568,547.6 C572.5,548 576.5,549.5 577.2,552.5 C577.5,556 574,557.8 569,557.2 C565,556.8 561,557.2 558,558 C556.5,560 556,563 554,564.8 C552,565.5 550.8,562 550.8,558 Z" fill="#8a6fd2" opacity="0.93" filter="url(#bl05)"/>
<circle cx="560.2" cy="561.6" r="1.1" fill="#8a6fd2"/>
<ellipse cx="560" cy="551.5" rx="4" ry="1.8" fill="#6d5cc8" opacity="0.8" filter="url(#bl05)"/>
<path d="M544,573 C548,569.5 556,568 561,570.5 C564.5,572.5 566.5,576 567,580 C569,583 574,584.5 577.5,588 C580.5,592 581.5,600 579,604.5 C576,607.5 571,607 568,608.5 C566,611 566,616 562,619.5 C559,620 557,616 556,612 C554,610 551.5,611 550.5,616 C549.5,620 547,621 545,619.5 L544,610 Z" fill="#7d66d0" opacity="0.85" filter="url(#bl1)"/>
<path d="M567,588 C571,587 576,590 578,595 C579,600 576,604 571,604 C567,603 565.5,598 565.5,593 Z" fill="#5a5ad0" opacity="0.45" filter="url(#bl1)"/>
<g filter="url(#bl1)">
<ellipse cx="554.5" cy="593.2" rx="14.4" ry="15.8" fill="#4f63d2"/>
<ellipse cx="554.5" cy="593.2" rx="13" ry="14.4" fill="#3fbfe0"/>
<ellipse cx="554.3" cy="593.4" rx="11.6" ry="12.9" fill="#45b86a"/>
<ellipse cx="554.1" cy="593.6" rx="10.2" ry="11.4" fill="#5cbd4a"/>
<ellipse cx="553.8" cy="594" rx="8.8" ry="10" fill="#b5cf3a"/>
</g>
<g filter="url(#bl05)">
<path d="M546.5,587 C548.5,584.6 554.5,584.4 559,585.6 C561.5,586.6 562,589.5 561,592 C559.5,593.5 559.3,596.5 560.5,598.5 C561.5,601 559.5,603.6 555.8,604.2 C551.5,605 547.5,603.8 546.3,600.8 C545,596.5 545.2,590.5 546.5,587 Z" fill="#ee9430"/>
<circle cx="552.4" cy="595.2" r="2.6" fill="#a8c83c"/>
<circle cx="552.4" cy="595.2" r="1.5" fill="#4fb34a"/>
<circle cx="559.8" cy="595.6" r="1.5" fill="#8cc545"/>
</g>
<line x1="551.3" y1="538" x2="558.8" y2="547.2" stroke="#d7262f" stroke-width="1"/>
<polygon points="561.2,550.2 556.6,547.6 559.8,545.1" fill="#d7262f"/>
</g>
<text x="565.7" y="652.8" font-size="7.6" text-anchor="middle" textLength="25.6" lengthAdjust="spacingAndGlyphs" fill="#f2f2f2">Control</text>
<rect x="591.6" y="508.1" width="44" height="154.3" fill="#080808" stroke="none" stroke-width="0"/>
<g clip-path="url(#cpB)">
<path d="M616.8,622 C617.3,635 617.8,648 618.3,663" fill="none" stroke="#a9a9a9" stroke-width="2.3" filter="url(#bl05)"/>
<ellipse cx="602.6" cy="544.6" rx="4.2" ry="5.6" fill="#4d4d4d" filter="url(#bl05)"/>
<ellipse cx="634" cy="545.5" rx="3.6" ry="6" fill="#4d4d4d" filter="url(#bl05)"/>
<path d="M627,606 C630,613 631.5,622 631.5,633 L628,633 C627,625 625.5,616 623.5,609 Z" fill="#9c9c9c" filter="url(#bl05)"/>
<g clip-path="url(#bodyB)" filter="url(#bl05)">
<rect x="596" y="508" width="38" height="120" fill="url(#shadeH)"/>
<rect x="591" y="508" width="45" height="120" filter="url(#noise)" opacity="0.3"/>
</g>
<path d="M614.2,514 L620.2,514 C622,519 624,524 626.5,530.5 C622,533.5 612,533.5 607.8,530.5 C610.2,524 612.2,519 614.2,514 Z" fill="#828282" filter="url(#bl1)"/>
<rect x="615.3" y="509.5" width="0.9" height="12" fill="#b5b5b5"/><rect x="618.2" y="509.5" width="0.9" height="12" fill="#b5b5b5"/>
<circle cx="615.5" cy="531.2" r="0.8" fill="#f0f0f0"/><circle cx="619" cy="531.2" r="0.8" fill="#f0f0f0"/>
<ellipse cx="608.6" cy="553.2" rx="2.6" ry="2.2" fill="#555" filter="url(#bl05)"/>
<path d="M593,622 C595,619 600,618 604,619 L606.5,623 C603,626.5 598,628.5 594.5,628.5 Z" fill="#5a63d6" filter="url(#bl05)"/>
<path d="M596,597 C598,591 604,588.5 610,589 C617,589.5 623,591.5 626.5,597 C629.5,602 629,610 627.5,616 C625,622 619,626 611,626.5 C603,627 596,623 593.5,616 C592,610 593,602 596,597 Z" fill="#7d6cd2" opacity="0.9" filter="url(#bl05)"/>
<g filter="url(#bl1)">
<ellipse cx="610" cy="608.6" rx="15" ry="14.8" fill="#4c6ed8"/>
<ellipse cx="610" cy="608.6" rx="13.2" ry="13" fill="#3ec4d8"/>
<ellipse cx="609.8" cy="608.8" rx="11.4" ry="11.2" fill="#4fb866"/>
<ellipse cx="609.6" cy="608.8" rx="9.6" ry="9.4" fill="#6cc04c"/>
</g>
<g filter="url(#bl05)">
<path d="M605,602.5 C609,600.5 614,602 615.5,606.5 C616.5,611 613.5,614.5 608.5,614.8 C605,615 602.5,613.5 601.8,611" fill="none" stroke="#e2b232" stroke-width="2.8"/>
<circle cx="608.6" cy="609.3" r="3.6" fill="#2e9e4c"/>
<circle cx="608.6" cy="609.3" r="2.1" fill="#0b7a3c"/>
</g>
</g>
<text x="614.1" y="648.7" font-size="7.6" text-anchor="middle" textLength="38.6" lengthAdjust="spacingAndGlyphs" fill="#f2f2f2">IMQ topical</text>
<text x="615.1" y="656.1" font-size="7.6" text-anchor="middle" textLength="21.4" lengthAdjust="spacingAndGlyphs" fill="#f2f2f2">+ IFNα</text>
<text transform="translate(640.6,582) rotate(90)" x="0" y="0" font-size="9" text-anchor="middle" textLength="77.1" lengthAdjust="spacingAndGlyphs">4T1 - lung metastasis</text>
<text x="485.6" y="679" font-size="13" font-weight="bold" fill="#111" stroke="#111" stroke-width="0.45">i</text>
<line x1="541.5" y1="685.6" x2="541.5" y2="745" stroke="#707070" stroke-width="0.8"/>
<line x1="541.7" y1="745.5" x2="664.4" y2="745.5" stroke="#707070" stroke-width="0.8"/>
<line x1="541.5" y1="745" x2="541.5" y2="748.6" stroke="#707070" stroke-width="0.8"/>
<line x1="582.5" y1="745" x2="582.5" y2="748.6" stroke="#707070" stroke-width="0.8"/>
<line x1="623.5" y1="745" x2="623.5" y2="748.6" stroke="#707070" stroke-width="0.8"/>
<line x1="664.5" y1="745" x2="664.5" y2="748.6" stroke="#707070" stroke-width="0.8"/>
<text x="541.7" y="758.2" font-size="8.2" text-anchor="middle" textLength="4.6" lengthAdjust="spacingAndGlyphs">0</text>
<text x="582.6" y="758.2" font-size="8" text-anchor="middle" textLength="21.6" lengthAdjust="spacingAndGlyphs">2 × 10<tspan dy="-3.2" font-size="5.2">6</tspan></text>
<text x="623.5" y="758.2" font-size="8" text-anchor="middle" textLength="21.6" lengthAdjust="spacingAndGlyphs">4 × 10<tspan dy="-3.2" font-size="5.2">6</tspan></text>
<text x="664.4" y="758.2" font-size="8" text-anchor="middle" textLength="21.6" lengthAdjust="spacingAndGlyphs">6 × 10<tspan dy="-3.2" font-size="5.2">6</tspan></text>
<text x="603.2" y="770.8" font-size="8.9" text-anchor="middle" textLength="98.2" lengthAdjust="spacingAndGlyphs">Radiance (p s<tspan dy="-3.6" font-size="5.6">−1</tspan><tspan dy="3.6"> cm</tspan><tspan dy="-3.6" font-size="5.6">−2</tspan><tspan dy="3.6"> sr</tspan><tspan dy="-3.6" font-size="5.6">−1</tspan><tspan dy="3.6">)</tspan></text>
<line x1="536" y1="698.5" x2="541.7" y2="698.5" stroke="#707070" stroke-width="0.8"/>
<line x1="536" y1="728.5" x2="541.7" y2="728.5" stroke="#707070" stroke-width="0.8"/>
<text x="525.2" y="701.3" font-size="8.6" text-anchor="end" textLength="30" lengthAdjust="spacingAndGlyphs">Control</text>
<text x="532.4" y="725.4" font-size="8.6" text-anchor="end" textLength="46.8" lengthAdjust="spacingAndGlyphs">IMQ topical</text>
<text x="529" y="735.4" font-size="8.6" text-anchor="end" textLength="31.4" lengthAdjust="spacingAndGlyphs">+ IFNα</text>
<rect x="541.7" y="689.4" width="42.9" height="18" fill="none" stroke="#707070" stroke-width="0.8"/>
<rect x="541.7" y="717.4" width="8.7" height="18" fill="none" stroke="#707070" stroke-width="0.8"/>
<line x1="574" y1="698.5" x2="595.6" y2="698.5" stroke="#707070" stroke-width="0.8"/>
<line x1="574.5" y1="695" x2="574.5" y2="702.2" stroke="#707070" stroke-width="0.8"/>
<line x1="595.5" y1="695" x2="595.5" y2="702.2" stroke="#707070" stroke-width="0.8"/>
<circle cx="567.6" cy="692" r="1.9" fill="#fff" stroke="#666" stroke-width="0.7"/>
<circle cx="571" cy="698.6" r="1.9" fill="#fff" stroke="#666" stroke-width="0.7"/>
<circle cx="571" cy="704.6" r="1.9" fill="#fff" stroke="#666" stroke-width="0.7"/>
<circle cx="589" cy="698.6" r="1.9" fill="#fff" stroke="#666" stroke-width="0.7"/>
<circle cx="625.7" cy="698.4" r="1.9" fill="#fff" stroke="#666" stroke-width="0.7"/>
<polygon points="547.8,717.6 551.4,717.6 549.6,720.8" fill="#e3202a" stroke="#5a1515" stroke-width="0.3"/>
<polygon points="547.8,722.4 551.4,722.4 549.6,725.6" fill="#e3202a" stroke="#5a1515" stroke-width="0.3"/>
<polygon points="547.8,727.4 551.4,727.4 549.6,730.6" fill="#e3202a" stroke="#5a1515" stroke-width="0.3"/>
<polygon points="547.8,732 551.4,732 549.6,735.2" fill="#e3202a" stroke="#5a1515" stroke-width="0.3"/>
<line x1="637.5" y1="697.5" x2="637.5" y2="725.2" stroke="#8a8a8a" stroke-width="0.9"/>
<text transform="translate(640.2,711) rotate(90)" x="0" y="0" font-size="8" text-anchor="middle" textLength="35.4" lengthAdjust="spacingAndGlyphs"><tspan font-style="italic">P</tspan> = 0.0310</text>
</g>
</svg>
</body></html>
